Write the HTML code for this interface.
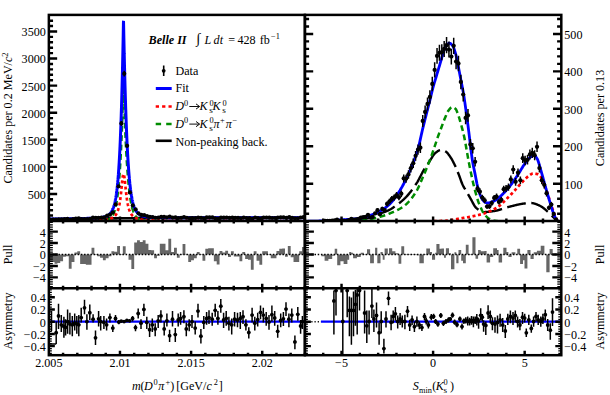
<!DOCTYPE html><html><head><meta charset="utf-8"><style>html,body{margin:0;padding:0;background:#fff;}svg{display:block}</style></head><body><svg width="610" height="395" viewBox="0 0 610 395" font-family="Liberation Serif, serif" fill="#000"><defs><clipPath id="cL"><rect x="48.85" y="14.90" width="256.05" height="206.10"/></clipPath><clipPath id="cR"><rect x="304.90" y="14.90" width="256.40" height="206.10"/></clipPath><clipPath id="cLA"><rect x="48.85" y="288.20" width="256.05" height="67.00"/></clipPath><clipPath id="cRA"><rect x="304.90" y="288.20" width="256.40" height="67.00"/></clipPath></defs><g clip-path="url(#cL)" fill="none" stroke-linejoin="bevel"><path d="M48.85 219.21L49.36 219.21L49.88 219.20L50.39 219.19L50.91 219.19L51.42 219.18L51.93 219.18L52.45 219.17L52.96 219.16L53.47 219.16L53.99 219.15L54.50 219.15L55.02 219.14L55.53 219.13L56.04 219.13L56.56 219.12L57.07 219.11L57.59 219.11L58.10 219.10L58.61 219.10L59.13 219.09L59.64 219.08L60.16 219.08L60.67 219.07L61.18 219.06L61.70 219.06L62.21 219.05L62.72 219.04L63.24 219.04L63.75 219.03L64.27 219.03L64.78 219.02L65.29 219.01L65.81 219.01L66.32 219.00L66.84 218.99L67.35 218.99L67.86 218.98L68.38 218.97L68.89 218.97L69.40 218.96L69.92 218.95L70.43 218.95L70.95 218.94L71.46 218.93L71.97 218.93L72.49 218.92L73.00 218.91L73.52 218.91L74.03 218.90L74.54 218.89L75.06 218.89L75.57 218.88L76.08 218.87L76.60 218.87L77.11 218.86L77.63 218.85L78.14 218.85L78.65 218.84L79.17 218.83L79.68 218.82L80.20 218.82L80.71 218.81L81.22 218.80L81.74 218.79L82.25 218.79L82.77 218.78L83.28 218.77L83.79 218.76L84.31 218.76L84.82 218.75L85.33 218.74L85.85 218.73L86.36 218.73L86.88 218.72L87.39 218.71L87.90 218.70L88.42 218.69L88.93 218.69L89.45 218.68L89.96 218.67L90.47 218.66L90.99 218.66L91.50 218.65L92.01 218.64L92.53 218.63L93.04 218.62L93.56 218.62L94.07 218.61L94.58 218.60L95.10 218.59L95.61 218.59L96.13 218.58L96.64 218.57L97.15 218.56L97.67 218.56L98.18 218.55L98.69 218.54L99.21 218.53L99.72 218.53L100.24 218.52L100.75 218.51L101.26 218.51L101.78 218.50L102.29 218.49L102.81 218.49L103.32 218.48L103.83 218.47L104.35 218.47L104.86 218.46L105.38 218.45L105.89 218.45L106.40 218.44L106.92 218.43L107.43 218.43L107.94 218.42L108.46 218.42L108.97 218.41L109.49 218.41L110.00 218.40L110.00 218.40L110.07 218.40L110.14 218.40L110.20 218.40L110.27 218.40L110.34 218.40L110.41 218.40L110.47 218.40L110.54 218.40L110.61 218.39L110.68 218.39L110.74 218.39L110.81 218.39L110.88 218.39L110.95 218.39L111.02 218.39L111.08 218.39L111.15 218.39L111.22 218.39L111.29 218.39L111.35 218.39L111.42 218.39L111.49 218.39L111.56 218.38L111.62 218.38L111.69 218.38L111.76 218.38L111.83 218.38L111.89 218.38L111.96 218.38L112.03 218.38L112.10 218.38L112.17 218.38L112.23 218.38L112.30 218.38L112.37 218.38L112.44 218.38L112.50 218.38L112.57 218.37L112.64 218.37L112.71 218.37L112.77 218.37L112.84 218.37L112.91 218.37L112.98 218.37L113.05 218.37L113.11 218.37L113.18 218.37L113.25 218.37L113.32 218.37L113.38 218.37L113.45 218.37L113.52 218.36L113.59 218.36L113.65 218.36L113.72 218.36L113.79 218.36L113.86 218.36L113.92 218.36L113.99 218.36L114.06 218.36L114.13 218.36L114.20 218.36L114.26 218.36L114.33 218.36L114.40 218.36L114.47 218.36L114.53 218.35L114.60 218.35L114.67 218.35L114.74 218.35L114.80 218.35L114.87 218.35L114.94 218.35L115.01 218.35L115.08 218.35L115.14 218.35L115.21 218.35L115.28 218.35L115.35 218.35L115.41 218.35L115.48 218.35L115.55 218.34L115.62 218.34L115.68 218.34L115.75 218.34L115.82 218.34L115.89 218.34L115.95 218.34L116.02 218.34L116.09 218.34L116.16 218.34L116.23 218.34L116.29 218.34L116.36 218.34L116.43 218.34L116.50 218.34L116.56 218.33L116.63 218.33L116.70 218.33L116.77 218.33L116.83 218.33L116.90 218.33L116.97 218.33L117.04 218.33L117.11 218.33L117.17 218.33L117.24 218.33L117.31 218.33L117.38 218.33L117.44 218.33L117.51 218.33L117.58 218.32L117.65 218.32L117.71 218.32L117.78 218.32L117.85 218.32L117.92 218.32L117.98 218.32L118.05 218.32L118.12 218.32L118.19 218.32L118.26 218.32L118.32 218.32L118.39 218.32L118.46 218.32L118.53 218.32L118.59 218.31L118.66 218.31L118.73 218.31L118.80 218.31L118.86 218.31L118.93 218.31L119.00 218.31L119.07 218.31L119.14 218.31L119.20 218.31L119.27 218.31L119.34 218.31L119.41 218.31L119.47 218.31L119.54 218.31L119.61 218.30L119.68 218.30L119.74 218.30L119.81 218.30L119.88 218.30L119.95 218.30L120.02 218.30L120.08 218.30L120.15 218.30L120.22 218.30L120.29 218.30L120.35 218.30L120.42 218.30L120.49 218.30L120.56 218.30L120.62 218.30L120.69 218.29L120.76 218.29L120.83 218.29L120.89 218.29L120.96 218.29L121.03 218.29L121.10 218.29L121.17 218.29L121.23 218.29L121.30 218.29L121.37 218.29L121.44 218.29L121.50 218.29L121.57 218.29L121.64 218.29L121.71 218.29L121.77 218.28L121.84 218.28L121.91 218.28L121.98 218.28L122.05 218.28L122.11 218.28L122.18 218.28L122.25 218.28L122.32 218.28L122.38 218.28L122.45 218.28L122.52 218.28L122.59 218.28L122.65 218.28L122.72 218.28L122.79 218.27L122.86 218.27L122.92 218.27L122.99 218.27L123.06 218.27L123.13 218.27L123.20 218.27L123.26 218.27L123.33 218.27L123.40 218.27L123.47 218.27L123.53 218.27L123.60 218.27L123.67 218.27L123.74 218.27L123.80 218.27L123.87 218.26L123.94 218.26L124.01 218.26L124.08 218.26L124.14 218.26L124.21 218.26L124.28 218.26L124.35 218.26L124.41 218.26L124.48 218.26L124.55 218.26L124.62 218.26L124.68 218.26L124.75 218.26L124.82 218.26L124.89 218.26L124.95 218.26L125.02 218.25L125.09 218.25L125.16 218.25L125.23 218.25L125.29 218.25L125.36 218.25L125.43 218.25L125.50 218.25L125.56 218.25L125.63 218.25L125.70 218.25L125.77 218.25L125.83 218.25L125.90 218.25L125.97 218.25L126.04 218.25L126.11 218.24L126.17 218.24L126.24 218.24L126.31 218.24L126.38 218.24L126.44 218.24L126.51 218.24L126.58 218.24L126.65 218.24L126.71 218.24L126.78 218.24L126.85 218.24L126.92 218.24L126.98 218.24L127.05 218.24L127.12 218.24L127.19 218.24L127.26 218.23L127.32 218.23L127.39 218.23L127.46 218.23L127.53 218.23L127.59 218.23L127.66 218.23L127.73 218.23L127.80 218.23L127.86 218.23L127.93 218.23L128.00 218.23L128.07 218.23L128.14 218.23L128.20 218.23L128.27 218.23L128.34 218.23L128.41 218.22L128.47 218.22L128.54 218.22L128.61 218.22L128.68 218.22L128.74 218.22L128.81 218.22L128.88 218.22L128.95 218.22L129.02 218.22L129.08 218.22L129.15 218.22L129.22 218.22L129.29 218.22L129.35 218.22L129.42 218.22L129.49 218.22L129.56 218.21L129.62 218.21L129.69 218.21L129.76 218.21L129.83 218.21L129.89 218.21L129.96 218.21L130.03 218.21L130.10 218.21L130.17 218.21L130.23 218.21L130.30 218.21L130.37 218.21L130.44 218.21L130.50 218.21L130.57 218.21L130.64 218.21L130.71 218.21L130.77 218.20L130.84 218.20L130.91 218.20L130.98 218.20L131.05 218.20L131.11 218.20L131.18 218.20L131.25 218.20L131.32 218.20L131.38 218.20L131.45 218.20L131.52 218.20L131.59 218.20L131.65 218.20L131.72 218.20L131.79 218.20L131.86 218.20L131.92 218.20L131.99 218.19L132.06 218.19L132.13 218.19L132.20 218.19L132.26 218.19L132.33 218.19L132.40 218.19L132.47 218.19L132.53 218.19L132.60 218.19L132.67 218.19L132.74 218.19L132.80 218.19L132.87 218.19L132.94 218.19L133.01 218.19L133.08 218.19L133.14 218.19L133.21 218.19L133.28 218.18L133.35 218.18L133.41 218.18L133.48 218.18L133.55 218.18L133.62 218.18L133.68 218.18L133.75 218.18L133.82 218.18L133.89 218.18L133.95 218.18L134.02 218.18L134.09 218.18L134.16 218.18L134.23 218.18L134.29 218.18L134.36 218.18L134.43 218.18L134.50 218.17L134.56 218.17L134.63 218.17L134.70 218.17L134.77 218.17L134.83 218.17L134.90 218.17L134.97 218.17L135.04 218.17L135.11 218.17L135.17 218.17L135.24 218.17L135.31 218.17L135.38 218.17L135.44 218.17L135.51 218.17L135.58 218.17L135.65 218.17L135.71 218.17L135.78 218.17L135.85 218.16L135.92 218.16L135.98 218.16L136.05 218.16L136.12 218.16L136.19 218.16L136.26 218.16L136.32 218.16L136.39 218.16L136.46 218.16L136.53 218.16L136.59 218.16L136.66 218.16L136.73 218.16L136.80 218.16L136.86 218.16L136.93 218.16L137.00 218.16L137.00 218.16L137.84 218.15L138.69 218.14L139.53 218.14L140.37 218.13L141.22 218.13L142.06 218.12L142.91 218.12L143.75 218.11L144.59 218.11L145.44 218.10L146.28 218.10L147.12 218.09L147.97 218.09L148.81 218.08L149.66 218.08L150.50 218.07L151.34 218.07L152.19 218.07L153.03 218.06L153.87 218.06L154.72 218.05L155.56 218.05L156.41 218.05L157.25 218.04L158.09 218.04L158.94 218.03L159.78 218.03L160.62 218.03L161.47 218.02L162.31 218.02L163.16 218.02L164.00 218.01L164.84 218.01L165.69 218.01L166.53 218.00L167.37 218.00L168.22 217.99L169.06 217.99L169.91 217.99L170.75 217.98L171.59 217.98L172.44 217.98L173.28 217.98L174.12 217.97L174.97 217.97L175.81 217.97L176.65 217.96L177.50 217.96L178.34 217.96L179.19 217.95L180.03 217.95L180.87 217.95L181.72 217.95L182.56 217.94L183.40 217.94L184.25 217.94L185.09 217.93L185.94 217.93L186.78 217.93L187.62 217.93L188.47 217.92L189.31 217.92L190.15 217.92L191.00 217.92L191.84 217.91L192.69 217.91L193.53 217.91L194.37 217.91L195.22 217.90L196.06 217.90L196.90 217.90L197.75 217.90L198.59 217.90L199.44 217.89L200.28 217.89L201.12 217.89L201.97 217.89L202.81 217.88L203.65 217.88L204.50 217.88L205.34 217.88L206.18 217.88L207.03 217.88L207.87 217.87L208.72 217.87L209.56 217.87L210.40 217.87L211.25 217.87L212.09 217.86L212.93 217.86L213.78 217.86L214.62 217.86L215.47 217.86L216.31 217.86L217.15 217.86L218.00 217.85L218.84 217.85L219.68 217.85L220.53 217.85L221.37 217.85L222.22 217.85L223.06 217.84L223.90 217.84L224.75 217.84L225.59 217.84L226.43 217.84L227.28 217.84L228.12 217.84L228.97 217.83L229.81 217.83L230.65 217.83L231.50 217.83L232.34 217.83L233.18 217.83L234.03 217.83L234.87 217.82L235.72 217.82L236.56 217.82L237.40 217.82L238.25 217.82L239.09 217.82L239.93 217.82L240.78 217.81L241.62 217.81L242.46 217.81L243.31 217.81L244.15 217.81L245.00 217.81L245.84 217.81L246.68 217.80L247.53 217.80L248.37 217.80L249.21 217.80L250.06 217.80L250.90 217.80L251.75 217.80L252.59 217.80L253.43 217.79L254.28 217.79L255.12 217.79L255.96 217.79L256.81 217.79L257.65 217.79L258.50 217.79L259.34 217.79L260.18 217.78L261.03 217.78L261.87 217.78L262.71 217.78L263.56 217.78L264.40 217.78L265.25 217.78L266.09 217.78L266.93 217.78L267.78 217.77L268.62 217.77L269.46 217.77L270.31 217.77L271.15 217.77L271.99 217.77L272.84 217.77L273.68 217.77L274.53 217.77L275.37 217.77L276.21 217.77L277.06 217.76L277.90 217.76L278.74 217.76L279.59 217.76L280.43 217.76L281.28 217.76L282.12 217.76L282.96 217.76L283.81 217.76L284.65 217.76L285.49 217.76L286.34 217.76L287.18 217.76L288.03 217.76L288.87 217.76L289.71 217.76L290.56 217.75L291.40 217.75L292.24 217.75L293.09 217.75L293.93 217.75L294.78 217.75L295.62 217.75L296.46 217.75L297.31 217.75L298.15 217.75L298.99 217.75L299.84 217.75L300.68 217.75L301.53 217.75L302.37 217.75L303.21 217.75L304.06 217.75L304.90 217.75" stroke="#000" stroke-width="2.6"/><path d="M48.85 220.99L49.36 220.99L49.88 220.99L50.39 220.99L50.91 220.99L51.42 220.99L51.93 220.99L52.45 220.99L52.96 220.99L53.47 220.99L53.99 220.99L54.50 220.99L55.02 220.99L55.53 220.99L56.04 220.99L56.56 220.99L57.07 220.99L57.59 220.99L58.10 220.99L58.61 220.99L59.13 220.99L59.64 220.99L60.16 220.99L60.67 220.99L61.18 220.98L61.70 220.98L62.21 220.98L62.72 220.98L63.24 220.98L63.75 220.98L64.27 220.98L64.78 220.98L65.29 220.98L65.81 220.98L66.32 220.98L66.84 220.98L67.35 220.98L67.86 220.98L68.38 220.98L68.89 220.98L69.40 220.98L69.92 220.98L70.43 220.98L70.95 220.98L71.46 220.98L71.97 220.98L72.49 220.98L73.00 220.98L73.52 220.98L74.03 220.98L74.54 220.98L75.06 220.98L75.57 220.97L76.08 220.97L76.60 220.97L77.11 220.97L77.63 220.97L78.14 220.97L78.65 220.97L79.17 220.97L79.68 220.97L80.20 220.97L80.71 220.97L81.22 220.97L81.74 220.97L82.25 220.97L82.77 220.97L83.28 220.96L83.79 220.96L84.31 220.96L84.82 220.96L85.33 220.96L85.85 220.96L86.36 220.96L86.88 220.96L87.39 220.96L87.90 220.95L88.42 220.95L88.93 220.95L89.45 220.95L89.96 220.95L90.47 220.95L90.99 220.94L91.50 220.94L92.01 220.94L92.53 220.94L93.04 220.93L93.56 220.93L94.07 220.93L94.58 220.92L95.10 220.92L95.61 220.91L96.13 220.90L96.64 220.90L97.15 220.89L97.67 220.88L98.18 220.87L98.69 220.86L99.21 220.85L99.72 220.83L100.24 220.81L100.75 220.79L101.26 220.77L101.78 220.74L102.29 220.71L102.81 220.67L103.32 220.63L103.83 220.57L104.35 220.51L104.86 220.44L105.38 220.36L105.89 220.27L106.40 220.15L106.92 220.02L107.43 219.87L107.94 219.68L108.46 219.47L108.97 219.22L109.49 218.92L110.00 218.58L110.00 218.58L110.07 218.53L110.14 218.48L110.20 218.42L110.27 218.37L110.34 218.32L110.41 218.26L110.47 218.20L110.54 218.14L110.61 218.09L110.68 218.02L110.74 217.96L110.81 217.90L110.88 217.84L110.95 217.77L111.02 217.70L111.08 217.63L111.15 217.56L111.22 217.49L111.29 217.42L111.35 217.34L111.42 217.27L111.49 217.19L111.56 217.11L111.62 217.03L111.69 216.94L111.76 216.86L111.83 216.77L111.89 216.68L111.96 216.59L112.03 216.50L112.10 216.40L112.17 216.31L112.23 216.21L112.30 216.11L112.37 216.00L112.44 215.90L112.50 215.79L112.57 215.68L112.64 215.57L112.71 215.45L112.77 215.33L112.84 215.21L112.91 215.09L112.98 214.97L113.05 214.84L113.11 214.71L113.18 214.58L113.25 214.44L113.32 214.30L113.38 214.16L113.45 214.01L113.52 213.87L113.59 213.71L113.65 213.56L113.72 213.40L113.79 213.24L113.86 213.08L113.92 212.91L113.99 212.74L114.06 212.56L114.13 212.38L114.20 212.20L114.26 212.01L114.33 211.82L114.40 211.62L114.47 211.42L114.53 211.22L114.60 211.01L114.67 210.80L114.74 210.58L114.80 210.36L114.87 210.14L114.94 209.91L115.01 209.67L115.08 209.43L115.14 209.18L115.21 208.93L115.28 208.68L115.35 208.42L115.41 208.15L115.48 207.88L115.55 207.60L115.62 207.31L115.68 207.02L115.75 206.73L115.82 206.42L115.89 206.11L115.95 205.80L116.02 205.48L116.09 205.15L116.16 204.81L116.23 204.47L116.29 204.12L116.36 203.76L116.43 203.40L116.50 203.03L116.56 202.65L116.63 202.26L116.70 201.87L116.77 201.46L116.83 201.05L116.90 200.63L116.97 200.20L117.04 199.77L117.11 199.32L117.17 198.86L117.24 198.40L117.31 197.93L117.38 197.44L117.44 196.95L117.51 196.45L117.58 195.94L117.65 195.41L117.71 194.88L117.78 194.33L117.85 193.78L117.92 193.21L117.98 192.64L118.05 192.05L118.12 191.45L118.19 190.84L118.26 190.21L118.32 189.58L118.39 188.93L118.46 188.27L118.53 187.60L118.59 186.91L118.66 186.22L118.73 185.50L118.80 184.78L118.86 184.04L118.93 183.29L119.00 182.52L119.07 181.74L119.14 180.95L119.20 180.14L119.27 179.31L119.34 178.47L119.41 177.62L119.47 176.75L119.54 175.86L119.61 174.96L119.68 174.04L119.74 173.11L119.81 172.15L119.88 171.19L119.95 170.20L120.02 169.20L120.08 168.17L120.15 167.13L120.22 166.08L120.29 165.00L120.35 163.90L120.42 162.78L120.49 161.65L120.56 160.49L120.62 159.31L120.69 158.11L120.76 156.88L120.83 155.63L120.89 154.36L120.96 153.07L121.03 151.74L121.10 150.39L121.17 149.02L121.23 147.61L121.30 146.18L121.37 144.71L121.44 143.21L121.50 141.68L121.57 140.11L121.64 138.50L121.71 136.85L121.77 135.16L121.84 133.43L121.91 131.65L121.98 129.82L122.05 127.94L122.11 126.01L122.18 124.02L122.25 121.96L122.32 119.85L122.38 117.67L122.45 115.42L122.52 113.09L122.59 110.69L122.65 108.21L122.72 105.65L122.79 103.00L122.86 100.25L122.92 97.41L122.99 94.48L123.06 91.44L123.13 88.30L123.20 85.06L123.26 81.70L123.33 78.23L123.40 74.64L123.47 70.94L123.53 70.82L123.60 74.31L123.67 77.69L123.74 80.97L123.80 84.15L123.87 87.22L123.94 90.21L124.01 93.10L124.08 95.89L124.14 98.60L124.21 101.23L124.28 103.77L124.35 106.23L124.41 108.62L124.48 110.93L124.55 113.17L124.62 115.34L124.68 117.45L124.75 119.49L124.82 121.48L124.89 123.41L124.95 125.28L125.02 127.11L125.09 128.88L125.16 130.61L125.23 132.30L125.29 133.94L125.36 135.54L125.43 137.10L125.50 138.63L125.56 140.12L125.63 141.58L125.70 143.01L125.77 144.41L125.83 145.78L125.90 147.12L125.97 148.44L126.04 149.73L126.11 150.99L126.17 152.23L126.24 153.45L126.31 154.65L126.38 155.82L126.44 156.98L126.51 158.11L126.58 159.23L126.65 160.32L126.71 161.40L126.78 162.46L126.85 163.50L126.92 164.53L126.98 165.54L127.05 166.53L127.12 167.50L127.19 168.46L127.26 169.41L127.32 170.33L127.39 171.25L127.46 172.15L127.53 173.03L127.59 173.90L127.66 174.75L127.73 175.59L127.80 176.42L127.86 177.24L127.93 178.04L128.00 178.82L128.07 179.60L128.14 180.36L128.20 181.11L128.27 181.84L128.34 182.56L128.41 183.28L128.47 183.97L128.54 184.66L128.61 185.34L128.68 186.00L128.74 186.65L128.81 187.29L128.88 187.92L128.95 188.54L129.02 189.15L129.08 189.75L129.15 190.33L129.22 190.91L129.29 191.48L129.35 192.03L129.42 192.58L129.49 193.12L129.56 193.64L129.62 194.16L129.69 194.67L129.76 195.17L129.83 195.66L129.89 196.14L129.96 196.61L130.03 197.08L130.10 197.53L130.17 197.98L130.23 198.42L130.30 198.85L130.37 199.27L130.44 199.68L130.50 200.09L130.57 200.49L130.64 200.88L130.71 201.27L130.77 201.65L130.84 202.02L130.91 202.38L130.98 202.74L131.05 203.09L131.11 203.43L131.18 203.77L131.25 204.10L131.32 204.42L131.38 204.74L131.45 205.05L131.52 205.36L131.59 205.66L131.65 205.95L131.72 206.24L131.79 206.53L131.86 206.81L131.92 207.08L131.99 207.35L132.06 207.61L132.13 207.87L132.20 208.12L132.26 208.37L132.33 208.61L132.40 208.85L132.47 209.08L132.53 209.31L132.60 209.53L132.67 209.75L132.74 209.97L132.80 210.18L132.87 210.39L132.94 210.59L133.01 210.79L133.08 210.99L133.14 211.18L133.21 211.37L133.28 211.55L133.35 211.74L133.41 211.91L133.48 212.09L133.55 212.26L133.62 212.43L133.68 212.59L133.75 212.75L133.82 212.91L133.89 213.06L133.95 213.22L134.02 213.36L134.09 213.51L134.16 213.65L134.23 213.79L134.29 213.93L134.36 214.07L134.43 214.20L134.50 214.33L134.56 214.45L134.63 214.58L134.70 214.70L134.77 214.82L134.83 214.94L134.90 215.05L134.97 215.17L135.04 215.28L135.11 215.38L135.17 215.49L135.24 215.60L135.31 215.70L135.38 215.80L135.44 215.90L135.51 215.99L135.58 216.09L135.65 216.18L135.71 216.27L135.78 216.36L135.85 216.45L135.92 216.53L135.98 216.62L136.05 216.70L136.12 216.78L136.19 216.86L136.26 216.94L136.32 217.01L136.39 217.09L136.46 217.16L136.53 217.23L136.59 217.30L136.66 217.37L136.73 217.44L136.80 217.50L136.86 217.57L136.93 217.63L137.00 217.69L137.00 217.69L137.84 218.38L138.69 218.91L139.53 219.33L140.37 219.65L141.22 219.91L142.06 220.11L142.91 220.27L143.75 220.40L144.59 220.49L145.44 220.57L146.28 220.64L147.12 220.69L147.97 220.73L148.81 220.76L149.66 220.79L150.50 220.81L151.34 220.83L152.19 220.84L153.03 220.86L153.87 220.87L154.72 220.88L155.56 220.89L156.41 220.89L157.25 220.90L158.09 220.91L158.94 220.91L159.78 220.92L160.62 220.92L161.47 220.92L162.31 220.93L163.16 220.93L164.00 220.93L164.84 220.94L165.69 220.94L166.53 220.94L167.37 220.94L168.22 220.94L169.06 220.95L169.91 220.95L170.75 220.95L171.59 220.95L172.44 220.95L173.28 220.96L174.12 220.96L174.97 220.96L175.81 220.96L176.65 220.96L177.50 220.96L178.34 220.96L179.19 220.96L180.03 220.96L180.87 220.97L181.72 220.97L182.56 220.97L183.40 220.97L184.25 220.97L185.09 220.97L185.94 220.97L186.78 220.97L187.62 220.97L188.47 220.97L189.31 220.97L190.15 220.97L191.00 220.98L191.84 220.98L192.69 220.98L193.53 220.98L194.37 220.98L195.22 220.98L196.06 220.98L196.90 220.98L197.75 220.98L198.59 220.98L199.44 220.98L200.28 220.98L201.12 220.98L201.97 220.98L202.81 220.98L203.65 220.98L204.50 220.98L205.34 220.98L206.18 220.98L207.03 220.98L207.87 220.98L208.72 220.98L209.56 220.98L210.40 220.98L211.25 220.99L212.09 220.99L212.93 220.99L213.78 220.99L214.62 220.99L215.47 220.99L216.31 220.99L217.15 220.99L218.00 220.99L218.84 220.99L219.68 220.99L220.53 220.99L221.37 220.99L222.22 220.99L223.06 220.99L223.90 220.99L224.75 220.99L225.59 220.99L226.43 220.99L227.28 220.99L228.12 220.99L228.97 220.99L229.81 220.99L230.65 220.99L231.50 220.99L232.34 220.99L233.18 220.99L234.03 220.99L234.87 220.99L235.72 220.99L236.56 220.99L237.40 220.99L238.25 220.99L239.09 220.99L239.93 220.99L240.78 220.99L241.62 220.99L242.46 220.99L243.31 220.99L244.15 220.99L245.00 220.99L245.84 220.99L246.68 220.99L247.53 220.99L248.37 220.99L249.21 220.99L250.06 220.99L250.90 220.99L251.75 220.99L252.59 220.99L253.43 220.99L254.28 220.99L255.12 220.99L255.96 220.99L256.81 220.99L257.65 220.99L258.50 220.99L259.34 220.99L260.18 220.99L261.03 220.99L261.87 220.99L262.71 220.99L263.56 220.99L264.40 220.99L265.25 220.99L266.09 220.99L266.93 220.99L267.78 220.99L268.62 220.99L269.46 220.99L270.31 220.99L271.15 220.99L271.99 220.99L272.84 220.99L273.68 220.99L274.53 220.99L275.37 221.00L276.21 221.00L277.06 221.00L277.90 221.00L278.74 221.00L279.59 221.00L280.43 221.00L281.28 221.00L282.12 221.00L282.96 221.00L283.81 221.00L284.65 221.00L285.49 221.00L286.34 221.00L287.18 221.00L288.03 221.00L288.87 221.00L289.71 221.00L290.56 221.00L291.40 221.00L292.24 221.00L293.09 221.00L293.93 221.00L294.78 221.00L295.62 221.00L296.46 221.00L297.31 221.00L298.15 221.00L298.99 221.00L299.84 221.00L300.68 221.00L301.53 221.00L302.37 221.00L303.21 221.00L304.06 221.00L304.90 221.00" stroke="#008c00" stroke-width="2.3" stroke-dasharray="5.8 3.6"/><path d="M48.85 220.92L49.36 220.92L49.88 220.92L50.39 220.92L50.91 220.92L51.42 220.92L51.93 220.92L52.45 220.92L52.96 220.92L53.47 220.91L53.99 220.91L54.50 220.91L55.02 220.91L55.53 220.91L56.04 220.91L56.56 220.91L57.07 220.90L57.59 220.90L58.10 220.90L58.61 220.90L59.13 220.90L59.64 220.90L60.16 220.89L60.67 220.89L61.18 220.89L61.70 220.89L62.21 220.89L62.72 220.89L63.24 220.88L63.75 220.88L64.27 220.88L64.78 220.88L65.29 220.88L65.81 220.87L66.32 220.87L66.84 220.87L67.35 220.87L67.86 220.86L68.38 220.86L68.89 220.86L69.40 220.86L69.92 220.85L70.43 220.85L70.95 220.85L71.46 220.84L71.97 220.84L72.49 220.84L73.00 220.83L73.52 220.83L74.03 220.83L74.54 220.82L75.06 220.82L75.57 220.82L76.08 220.81L76.60 220.81L77.11 220.80L77.63 220.80L78.14 220.80L78.65 220.79L79.17 220.79L79.68 220.78L80.20 220.78L80.71 220.77L81.22 220.76L81.74 220.76L82.25 220.75L82.77 220.75L83.28 220.74L83.79 220.73L84.31 220.73L84.82 220.72L85.33 220.71L85.85 220.70L86.36 220.70L86.88 220.69L87.39 220.68L87.90 220.67L88.42 220.66L88.93 220.65L89.45 220.64L89.96 220.63L90.47 220.62L90.99 220.60L91.50 220.59L92.01 220.58L92.53 220.56L93.04 220.55L93.56 220.53L94.07 220.52L94.58 220.50L95.10 220.48L95.61 220.46L96.13 220.44L96.64 220.42L97.15 220.40L97.67 220.37L98.18 220.35L98.69 220.32L99.21 220.29L99.72 220.26L100.24 220.23L100.75 220.20L101.26 220.16L101.78 220.12L102.29 220.08L102.81 220.03L103.32 219.98L103.83 219.93L104.35 219.87L104.86 219.81L105.38 219.75L105.89 219.67L106.40 219.59L106.92 219.51L107.43 219.42L107.94 219.31L108.46 219.20L108.97 219.08L109.49 218.94L110.00 218.79L110.00 218.79L110.07 218.76L110.14 218.74L110.20 218.72L110.27 218.70L110.34 218.68L110.41 218.65L110.47 218.63L110.54 218.61L110.61 218.58L110.68 218.56L110.74 218.53L110.81 218.51L110.88 218.48L110.95 218.46L111.02 218.43L111.08 218.41L111.15 218.38L111.22 218.35L111.29 218.32L111.35 218.30L111.42 218.27L111.49 218.24L111.56 218.21L111.62 218.18L111.69 218.15L111.76 218.12L111.83 218.09L111.89 218.05L111.96 218.02L112.03 217.99L112.10 217.95L112.17 217.92L112.23 217.89L112.30 217.85L112.37 217.81L112.44 217.78L112.50 217.74L112.57 217.70L112.64 217.67L112.71 217.63L112.77 217.59L112.84 217.55L112.91 217.51L112.98 217.46L113.05 217.42L113.11 217.38L113.18 217.33L113.25 217.29L113.32 217.24L113.38 217.20L113.45 217.15L113.52 217.10L113.59 217.05L113.65 217.00L113.72 216.95L113.79 216.90L113.86 216.85L113.92 216.79L113.99 216.74L114.06 216.68L114.13 216.63L114.20 216.57L114.26 216.51L114.33 216.45L114.40 216.39L114.47 216.33L114.53 216.26L114.60 216.20L114.67 216.13L114.74 216.06L114.80 216.00L114.87 215.93L114.94 215.85L115.01 215.78L115.08 215.71L115.14 215.63L115.21 215.55L115.28 215.47L115.35 215.39L115.41 215.31L115.48 215.22L115.55 215.14L115.62 215.05L115.68 214.96L115.75 214.87L115.82 214.77L115.89 214.68L115.95 214.58L116.02 214.48L116.09 214.37L116.16 214.27L116.23 214.16L116.29 214.05L116.36 213.94L116.43 213.82L116.50 213.71L116.56 213.59L116.63 213.46L116.70 213.34L116.77 213.21L116.83 213.08L116.90 212.94L116.97 212.80L117.04 212.66L117.11 212.51L117.17 212.36L117.24 212.21L117.31 212.06L117.38 211.90L117.44 211.73L117.51 211.56L117.58 211.39L117.65 211.21L117.71 211.03L117.78 210.85L117.85 210.65L117.92 210.46L117.98 210.26L118.05 210.05L118.12 209.84L118.19 209.62L118.26 209.40L118.32 209.17L118.39 208.94L118.46 208.70L118.53 208.45L118.59 208.20L118.66 207.94L118.73 207.67L118.80 207.39L118.86 207.11L118.93 206.82L119.00 206.52L119.07 206.22L119.14 205.91L119.20 205.58L119.27 205.25L119.34 204.91L119.41 204.56L119.47 204.21L119.54 203.84L119.61 203.46L119.68 203.07L119.74 202.68L119.81 202.27L119.88 201.85L119.95 201.42L120.02 200.98L120.08 200.52L120.15 200.06L120.22 199.59L120.29 199.10L120.35 198.60L120.42 198.09L120.49 197.57L120.56 197.03L120.62 196.49L120.69 195.93L120.76 195.36L120.83 194.77L120.89 194.18L120.96 193.58L121.03 192.96L121.10 192.34L121.17 191.70L121.23 191.05L121.30 190.40L121.37 189.74L121.44 189.07L121.50 188.39L121.57 187.71L121.64 187.03L121.71 186.34L121.77 185.65L121.84 184.96L121.91 184.28L121.98 183.59L122.05 182.91L122.11 182.24L122.18 181.58L122.25 180.93L122.32 180.30L122.38 179.68L122.45 179.08L122.52 178.50L122.59 177.95L122.65 177.42L122.72 176.92L122.79 176.45L122.86 176.02L122.92 175.62L122.99 175.27L123.06 174.95L123.13 174.67L123.20 174.44L123.26 174.25L123.33 174.11L123.40 174.01L123.47 173.96L123.53 173.96L123.60 174.00L123.67 174.09L123.74 174.21L123.80 174.38L123.87 174.58L123.94 174.83L124.01 175.11L124.08 175.43L124.14 175.78L124.21 176.17L124.28 176.58L124.35 177.03L124.41 177.50L124.48 178.00L124.55 178.52L124.62 179.06L124.68 179.62L124.75 180.20L124.82 180.79L124.89 181.40L124.95 182.01L125.02 182.64L125.09 183.27L125.16 183.91L125.23 184.55L125.29 185.20L125.36 185.84L125.43 186.49L125.50 187.13L125.56 187.78L125.63 188.41L125.70 189.05L125.77 189.68L125.83 190.30L125.90 190.91L125.97 191.52L126.04 192.12L126.11 192.71L126.17 193.29L126.24 193.86L126.31 194.42L126.38 194.98L126.44 195.52L126.51 196.05L126.58 196.57L126.65 197.08L126.71 197.58L126.78 198.07L126.85 198.55L126.92 199.02L126.98 199.48L127.05 199.93L127.12 200.37L127.19 200.79L127.26 201.21L127.32 201.62L127.39 202.02L127.46 202.41L127.53 202.79L127.59 203.16L127.66 203.52L127.73 203.87L127.80 204.22L127.86 204.55L127.93 204.88L128.00 205.20L128.07 205.51L128.14 205.82L128.20 206.11L128.27 206.40L128.34 206.68L128.41 206.96L128.47 207.23L128.54 207.49L128.61 207.74L128.68 207.99L128.74 208.24L128.81 208.47L128.88 208.71L128.95 208.93L129.02 209.15L129.08 209.37L129.15 209.58L129.22 209.78L129.29 209.98L129.35 210.18L129.42 210.37L129.49 210.55L129.56 210.73L129.62 210.91L129.69 211.08L129.76 211.25L129.83 211.42L129.89 211.58L129.96 211.74L130.03 211.89L130.10 212.04L130.17 212.19L130.23 212.33L130.30 212.47L130.37 212.61L130.44 212.74L130.50 212.88L130.57 213.00L130.64 213.13L130.71 213.25L130.77 213.37L130.84 213.49L130.91 213.61L130.98 213.72L131.05 213.83L131.11 213.94L131.18 214.04L131.25 214.14L131.32 214.25L131.38 214.35L131.45 214.44L131.52 214.54L131.59 214.63L131.65 214.72L131.72 214.81L131.79 214.90L131.86 214.98L131.92 215.07L131.99 215.15L132.06 215.23L132.13 215.31L132.20 215.39L132.26 215.46L132.33 215.54L132.40 215.61L132.47 215.68L132.53 215.76L132.60 215.82L132.67 215.89L132.74 215.96L132.80 216.02L132.87 216.09L132.94 216.15L133.01 216.21L133.08 216.27L133.14 216.33L133.21 216.39L133.28 216.45L133.35 216.51L133.41 216.56L133.48 216.62L133.55 216.67L133.62 216.72L133.68 216.77L133.75 216.82L133.82 216.87L133.89 216.92L133.95 216.97L134.02 217.02L134.09 217.06L134.16 217.11L134.23 217.15L134.29 217.20L134.36 217.24L134.43 217.29L134.50 217.33L134.56 217.37L134.63 217.41L134.70 217.45L134.77 217.49L134.83 217.53L134.90 217.57L134.97 217.60L135.04 217.64L135.11 217.68L135.17 217.71L135.24 217.75L135.31 217.78L135.38 217.82L135.44 217.85L135.51 217.88L135.58 217.91L135.65 217.95L135.71 217.98L135.78 218.01L135.85 218.04L135.92 218.07L135.98 218.10L136.05 218.13L136.12 218.16L136.19 218.19L136.26 218.21L136.32 218.24L136.39 218.27L136.46 218.30L136.53 218.32L136.59 218.35L136.66 218.37L136.73 218.40L136.80 218.42L136.86 218.45L136.93 218.47L137.00 218.50L137.00 218.50L137.84 218.77L138.69 219.00L139.53 219.20L140.37 219.37L141.22 219.51L142.06 219.64L142.91 219.75L143.75 219.85L144.59 219.94L145.44 220.02L146.28 220.09L147.12 220.15L147.97 220.21L148.81 220.26L149.66 220.31L150.50 220.35L151.34 220.39L152.19 220.42L153.03 220.45L153.87 220.48L154.72 220.51L155.56 220.54L156.41 220.56L157.25 220.58L158.09 220.60L158.94 220.62L159.78 220.64L160.62 220.65L161.47 220.67L162.31 220.68L163.16 220.70L164.00 220.71L164.84 220.72L165.69 220.73L166.53 220.74L167.37 220.75L168.22 220.76L169.06 220.77L169.91 220.78L170.75 220.79L171.59 220.79L172.44 220.80L173.28 220.81L174.12 220.81L174.97 220.82L175.81 220.82L176.65 220.83L177.50 220.84L178.34 220.84L179.19 220.85L180.03 220.85L180.87 220.85L181.72 220.86L182.56 220.86L183.40 220.87L184.25 220.87L185.09 220.87L185.94 220.88L186.78 220.88L187.62 220.88L188.47 220.89L189.31 220.89L190.15 220.89L191.00 220.89L191.84 220.90L192.69 220.90L193.53 220.90L194.37 220.90L195.22 220.91L196.06 220.91L196.90 220.91L197.75 220.91L198.59 220.91L199.44 220.92L200.28 220.92L201.12 220.92L201.97 220.92L202.81 220.92L203.65 220.93L204.50 220.93L205.34 220.93L206.18 220.93L207.03 220.93L207.87 220.93L208.72 220.93L209.56 220.94L210.40 220.94L211.25 220.94L212.09 220.94L212.93 220.94L213.78 220.94L214.62 220.94L215.47 220.94L216.31 220.94L217.15 220.95L218.00 220.95L218.84 220.95L219.68 220.95L220.53 220.95L221.37 220.95L222.22 220.95L223.06 220.95L223.90 220.95L224.75 220.95L225.59 220.95L226.43 220.95L227.28 220.96L228.12 220.96L228.97 220.96L229.81 220.96L230.65 220.96L231.50 220.96L232.34 220.96L233.18 220.96L234.03 220.96L234.87 220.96L235.72 220.96L236.56 220.96L237.40 220.96L238.25 220.96L239.09 220.96L239.93 220.96L240.78 220.97L241.62 220.97L242.46 220.97L243.31 220.97L244.15 220.97L245.00 220.97L245.84 220.97L246.68 220.97L247.53 220.97L248.37 220.97L249.21 220.97L250.06 220.97L250.90 220.97L251.75 220.97L252.59 220.97L253.43 220.97L254.28 220.97L255.12 220.97L255.96 220.97L256.81 220.97L257.65 220.97L258.50 220.97L259.34 220.97L260.18 220.97L261.03 220.97L261.87 220.97L262.71 220.98L263.56 220.98L264.40 220.98L265.25 220.98L266.09 220.98L266.93 220.98L267.78 220.98L268.62 220.98L269.46 220.98L270.31 220.98L271.15 220.98L271.99 220.98L272.84 220.98L273.68 220.98L274.53 220.98L275.37 220.98L276.21 220.98L277.06 220.98L277.90 220.98L278.74 220.98L279.59 220.98L280.43 220.98L281.28 220.98L282.12 220.98L282.96 220.98L283.81 220.98L284.65 220.98L285.49 220.98L286.34 220.98L287.18 220.98L288.03 220.98L288.87 220.98L289.71 220.98L290.56 220.98L291.40 220.98L292.24 220.98L293.09 220.98L293.93 220.98L294.78 220.98L295.62 220.98L296.46 220.98L297.31 220.98L298.15 220.98L298.99 220.98L299.84 220.98L300.68 220.98L301.53 220.98L302.37 220.98L303.21 220.99L304.06 220.99L304.90 220.99" stroke="#f00" stroke-width="2.7" stroke-dasharray="3 2.6"/><path d="M48.85 219.13L49.36 219.12L49.88 219.11L50.39 219.10L50.91 219.10L51.42 219.09L51.93 219.08L52.45 219.07L52.96 219.07L53.47 219.06L53.99 219.05L54.50 219.04L55.02 219.04L55.53 219.03L56.04 219.02L56.56 219.01L57.07 219.01L57.59 219.00L58.10 218.99L58.61 218.98L59.13 218.97L59.64 218.97L60.16 218.96L60.67 218.95L61.18 218.94L61.70 218.93L62.21 218.92L62.72 218.91L63.24 218.91L63.75 218.90L64.27 218.89L64.78 218.88L65.29 218.87L65.81 218.86L66.32 218.85L66.84 218.84L67.35 218.83L67.86 218.83L68.38 218.82L68.89 218.81L69.40 218.80L69.92 218.79L70.43 218.78L70.95 218.77L71.46 218.76L71.97 218.75L72.49 218.74L73.00 218.73L73.52 218.72L74.03 218.70L74.54 218.69L75.06 218.68L75.57 218.67L76.08 218.66L76.60 218.65L77.11 218.64L77.63 218.63L78.14 218.61L78.65 218.60L79.17 218.59L79.68 218.57L80.20 218.56L80.71 218.55L81.22 218.53L81.74 218.52L82.25 218.51L82.77 218.49L83.28 218.48L83.79 218.46L84.31 218.44L84.82 218.43L85.33 218.41L85.85 218.40L86.36 218.38L86.88 218.36L87.39 218.34L87.90 218.32L88.42 218.31L88.93 218.29L89.45 218.27L89.96 218.24L90.47 218.22L90.99 218.20L91.50 218.18L92.01 218.15L92.53 218.13L93.04 218.10L93.56 218.08L94.07 218.05L94.58 218.02L95.10 217.99L95.61 217.96L96.13 217.92L96.64 217.89L97.15 217.85L97.67 217.81L98.18 217.77L98.69 217.72L99.21 217.67L99.72 217.62L100.24 217.56L100.75 217.50L101.26 217.43L101.78 217.36L102.29 217.28L102.81 217.19L103.32 217.09L103.83 216.98L104.35 216.85L104.86 216.72L105.38 216.56L105.89 216.39L106.40 216.19L106.92 215.96L107.43 215.71L107.94 215.42L108.46 215.09L108.97 214.71L109.49 214.27L110.00 213.76L110.00 213.76L110.07 213.69L110.14 213.62L110.20 213.54L110.27 213.47L110.34 213.39L110.41 213.31L110.47 213.23L110.54 213.15L110.61 213.06L110.68 212.98L110.74 212.89L110.81 212.80L110.88 212.71L110.95 212.62L111.02 212.52L111.08 212.43L111.15 212.33L111.22 212.23L111.29 212.13L111.35 212.02L111.42 211.92L111.49 211.81L111.56 211.70L111.62 211.59L111.69 211.47L111.76 211.36L111.83 211.24L111.89 211.12L111.96 210.99L112.03 210.86L112.10 210.74L112.17 210.60L112.23 210.47L112.30 210.33L112.37 210.19L112.44 210.05L112.50 209.91L112.57 209.76L112.64 209.61L112.71 209.45L112.77 209.29L112.84 209.13L112.91 208.97L112.98 208.80L113.05 208.63L113.11 208.46L113.18 208.28L113.25 208.10L113.32 207.91L113.38 207.72L113.45 207.53L113.52 207.33L113.59 207.13L113.65 206.93L113.72 206.72L113.79 206.50L113.86 206.29L113.92 206.06L113.99 205.84L114.06 205.60L114.13 205.37L114.20 205.13L114.26 204.88L114.33 204.63L114.40 204.37L114.47 204.11L114.53 203.84L114.60 203.57L114.67 203.29L114.74 203.00L114.80 202.71L114.87 202.41L114.94 202.11L115.01 201.80L115.08 201.49L115.14 201.16L115.21 200.83L115.28 200.50L115.35 200.15L115.41 199.80L115.48 199.45L115.55 199.08L115.62 198.71L115.68 198.32L115.75 197.94L115.82 197.54L115.89 197.13L115.95 196.72L116.02 196.29L116.09 195.86L116.16 195.42L116.23 194.97L116.29 194.51L116.36 194.04L116.43 193.56L116.50 193.07L116.56 192.57L116.63 192.06L116.70 191.54L116.77 191.00L116.83 190.46L116.90 189.90L116.97 189.34L117.04 188.76L117.11 188.16L117.17 187.56L117.24 186.94L117.31 186.31L117.38 185.67L117.44 185.01L117.51 184.34L117.58 183.65L117.65 182.95L117.71 182.23L117.78 181.50L117.85 180.76L117.92 179.99L117.98 179.22L118.05 178.42L118.12 177.61L118.19 176.78L118.26 175.93L118.32 175.07L118.39 174.19L118.46 173.29L118.53 172.37L118.59 171.43L118.66 170.47L118.73 169.49L118.80 168.49L118.86 167.47L118.93 166.42L119.00 165.36L119.07 164.27L119.14 163.16L119.20 162.03L119.27 160.87L119.34 159.69L119.41 158.49L119.47 157.26L119.54 156.01L119.61 154.73L119.68 153.42L119.74 152.09L119.81 150.72L119.88 149.34L119.95 147.92L120.02 146.47L120.08 145.00L120.15 143.49L120.22 141.96L120.29 140.39L120.35 138.80L120.42 137.17L120.49 135.51L120.56 133.81L120.62 132.09L120.69 130.33L120.76 128.53L120.83 126.70L120.89 124.84L120.96 122.93L121.03 121.00L121.10 119.02L121.17 117.01L121.23 114.96L121.30 112.87L121.37 110.74L121.44 108.57L121.50 106.36L121.57 104.11L121.64 101.81L121.71 99.48L121.77 97.10L121.84 94.67L121.91 92.21L121.98 89.69L122.05 87.14L122.11 84.53L122.18 81.88L122.25 79.18L122.32 76.43L122.38 73.63L122.45 70.78L122.52 67.87L122.59 64.92L122.65 61.91L122.72 58.84L122.79 55.72L122.86 52.55L122.92 49.31L122.99 46.02L123.06 42.66L123.13 39.24L123.20 35.76L123.26 32.22L123.33 28.60L123.40 24.92L123.47 21.17L123.53 21.05L123.60 24.58L123.67 28.04L123.74 31.45L123.80 34.79L123.87 38.07L123.94 41.30L124.01 44.47L124.08 47.59L124.14 50.65L124.21 53.66L124.28 56.61L124.35 59.52L124.41 62.38L124.48 65.19L124.55 67.95L124.62 70.66L124.68 73.33L124.75 75.95L124.82 78.53L124.89 81.06L124.95 83.55L125.02 86.00L125.09 88.41L125.16 90.78L125.23 93.10L125.29 95.39L125.36 97.64L125.43 99.85L125.50 102.02L125.56 104.15L125.63 106.25L125.70 108.31L125.77 110.33L125.83 112.32L125.90 114.28L125.97 116.20L126.04 118.09L126.11 119.94L126.17 121.77L126.24 123.56L126.31 125.31L126.38 127.04L126.44 128.74L126.51 130.40L126.58 132.04L126.65 133.65L126.71 135.22L126.78 136.77L126.85 138.29L126.92 139.79L126.98 141.25L127.05 142.69L127.12 144.10L127.19 145.49L127.26 146.85L127.32 148.19L127.39 149.50L127.46 150.79L127.53 152.05L127.59 153.29L127.66 154.51L127.73 155.70L127.80 156.87L127.86 158.02L127.93 159.15L128.00 160.25L128.07 161.34L128.14 162.40L128.20 163.44L128.27 164.47L128.34 165.47L128.41 166.46L128.47 167.43L128.54 168.37L128.61 169.30L128.68 170.22L128.74 171.11L128.81 171.99L128.88 172.85L128.95 173.69L129.02 174.52L129.08 175.33L129.15 176.13L129.22 176.91L129.29 177.67L129.35 178.43L129.42 179.16L129.49 179.88L129.56 180.59L129.62 181.29L129.69 181.97L129.76 182.63L129.83 183.29L129.89 183.93L129.96 184.56L130.03 185.18L130.10 185.78L130.17 186.38L130.23 186.96L130.30 187.53L130.37 188.09L130.44 188.64L130.50 189.17L130.57 189.70L130.64 190.22L130.71 190.73L130.77 191.22L130.84 191.71L130.91 192.19L130.98 192.66L131.05 193.12L131.11 193.57L131.18 194.01L131.25 194.44L131.32 194.87L131.38 195.29L131.45 195.69L131.52 196.10L131.59 196.49L131.65 196.87L131.72 197.25L131.79 197.62L131.86 197.99L131.92 198.34L131.99 198.69L132.06 199.03L132.13 199.37L132.20 199.70L132.26 200.02L132.33 200.34L132.40 200.65L132.47 200.96L132.53 201.25L132.60 201.55L132.67 201.84L132.74 202.12L132.80 202.39L132.87 202.67L132.94 202.93L133.01 203.19L133.08 203.45L133.14 203.70L133.21 203.95L133.28 204.19L133.35 204.43L133.41 204.66L133.48 204.89L133.55 205.11L133.62 205.33L133.68 205.54L133.75 205.76L133.82 205.96L133.89 206.17L133.95 206.36L134.02 206.56L134.09 206.75L134.16 206.94L134.23 207.12L134.29 207.31L134.36 207.48L134.43 207.66L134.50 207.83L134.56 208.00L134.63 208.16L134.70 208.32L134.77 208.48L134.83 208.64L134.90 208.79L134.97 208.94L135.04 209.09L135.11 209.23L135.17 209.37L135.24 209.51L135.31 209.65L135.38 209.78L135.44 209.91L135.51 210.04L135.58 210.17L135.65 210.29L135.71 210.41L135.78 210.53L135.85 210.65L135.92 210.77L135.98 210.88L136.05 210.99L136.12 211.10L136.19 211.21L136.26 211.31L136.32 211.41L136.39 211.52L136.46 211.61L136.53 211.71L136.59 211.81L136.66 211.90L136.73 211.99L136.80 212.08L136.86 212.17L136.93 212.26L137.00 212.35L137.00 212.35L137.84 213.29L138.69 214.05L139.53 214.66L140.37 215.15L141.22 215.55L142.06 215.87L142.91 216.14L143.75 216.36L144.59 216.54L145.44 216.69L146.28 216.82L147.12 216.93L147.97 217.02L148.81 217.10L149.66 217.17L150.50 217.23L151.34 217.29L152.19 217.33L153.03 217.37L153.87 217.41L154.72 217.44L155.56 217.47L156.41 217.50L157.25 217.52L158.09 217.54L158.94 217.56L159.78 217.58L160.62 217.60L161.47 217.61L162.31 217.63L163.16 217.64L164.00 217.65L164.84 217.66L165.69 217.67L166.53 217.68L167.37 217.69L168.22 217.70L169.06 217.71L169.91 217.71L170.75 217.72L171.59 217.73L172.44 217.73L173.28 217.74L174.12 217.74L174.97 217.75L175.81 217.75L176.65 217.75L177.50 217.76L178.34 217.76L179.19 217.76L180.03 217.77L180.87 217.77L181.72 217.77L182.56 217.77L183.40 217.77L184.25 217.78L185.09 217.78L185.94 217.78L186.78 217.78L187.62 217.78L188.47 217.78L189.31 217.78L190.15 217.78L191.00 217.79L191.84 217.79L192.69 217.79L193.53 217.79L194.37 217.79L195.22 217.79L196.06 217.79L196.90 217.79L197.75 217.79L198.59 217.79L199.44 217.79L200.28 217.79L201.12 217.79L201.97 217.79L202.81 217.79L203.65 217.79L204.50 217.79L205.34 217.79L206.18 217.79L207.03 217.79L207.87 217.79L208.72 217.79L209.56 217.79L210.40 217.79L211.25 217.79L212.09 217.79L212.93 217.79L213.78 217.79L214.62 217.79L215.47 217.79L216.31 217.79L217.15 217.79L218.00 217.79L218.84 217.79L219.68 217.79L220.53 217.79L221.37 217.79L222.22 217.79L223.06 217.78L223.90 217.78L224.75 217.78L225.59 217.78L226.43 217.78L227.28 217.78L228.12 217.78L228.97 217.78L229.81 217.78L230.65 217.78L231.50 217.78L232.34 217.78L233.18 217.78L234.03 217.78L234.87 217.78L235.72 217.78L236.56 217.77L237.40 217.77L238.25 217.77L239.09 217.77L239.93 217.77L240.78 217.77L241.62 217.77L242.46 217.77L243.31 217.77L244.15 217.77L245.00 217.77L245.84 217.77L246.68 217.77L247.53 217.76L248.37 217.76L249.21 217.76L250.06 217.76L250.90 217.76L251.75 217.76L252.59 217.76L253.43 217.76L254.28 217.76L255.12 217.76L255.96 217.76L256.81 217.76L257.65 217.75L258.50 217.75L259.34 217.75L260.18 217.75L261.03 217.75L261.87 217.75L262.71 217.75L263.56 217.75L264.40 217.75L265.25 217.75L266.09 217.75L266.93 217.75L267.78 217.75L268.62 217.75L269.46 217.74L270.31 217.74L271.15 217.74L271.99 217.74L272.84 217.74L273.68 217.74L274.53 217.74L275.37 217.74L276.21 217.74L277.06 217.74L277.90 217.74L278.74 217.74L279.59 217.74L280.43 217.74L281.28 217.74L282.12 217.74L282.96 217.74L283.81 217.74L284.65 217.74L285.49 217.74L286.34 217.73L287.18 217.73L288.03 217.73L288.87 217.73L289.71 217.73L290.56 217.73L291.40 217.73L292.24 217.73L293.09 217.73L293.93 217.73L294.78 217.73L295.62 217.73L296.46 217.73L297.31 217.73L298.15 217.73L298.99 217.73L299.84 217.73L300.68 217.73L301.53 217.73L302.37 217.73L303.21 217.73L304.06 217.73L304.90 217.73" stroke="#00f" stroke-width="3"/></g><g clip-path="url(#cL)"><path d="M50.27 219.20V219.78M53.12 219.21V219.78M55.96 219.27V219.83M58.81 219.19V219.76M61.65 219.03V219.63M64.50 218.69V219.35M67.34 218.60V219.27M70.19 219.38V219.92M73.03 218.87V219.50M75.88 218.18V218.91M78.72 218.02V218.78M81.57 218.81V219.45M84.41 218.73V219.38M87.26 218.70V219.36M90.10 218.60V219.27M92.95 217.21V218.06M95.79 217.49V218.31M98.64 217.44V218.26M101.48 217.21V218.06M104.33 216.87V217.76M107.17 214.96V216.05M110.02 214.10V215.27M112.86 211.60V212.98M115.71 203.44V205.34M118.55 184.92V187.66M121.40 121.10V125.70M124.24 70.87V76.52M127.09 143.73V147.76M129.93 191.15V193.64M132.78 204.50V206.34M135.62 208.50V210.09M138.47 212.68V213.97M141.31 214.33V215.48M144.16 214.63V215.75M147.00 215.49V216.53M149.85 216.34V217.29M152.69 216.56V217.49M155.54 217.33V218.17M158.38 217.21V218.06M161.23 216.32V217.27M164.07 216.37V217.32M166.92 216.93V217.81M169.76 216.06V217.04M172.61 217.11V217.98M175.45 216.79V217.70M178.30 217.59V218.39M181.14 217.31V218.15M183.99 216.54V217.47M186.83 217.32V218.16M189.68 217.95V218.71M192.52 217.82V218.59M195.37 217.66V218.46M198.21 217.17V218.03M201.06 217.42V218.25M203.90 217.86V218.63M206.75 216.93V217.82M209.59 216.89V217.78M212.44 216.88V217.78M215.28 217.91V218.67M218.13 218.15V218.88M220.97 217.10V217.97M223.82 217.21V218.06M226.66 217.08V217.95M229.51 217.56V218.37M232.35 217.12V217.98M235.20 217.51V218.33M238.04 217.51V218.33M240.89 217.89V218.66M243.73 217.15V218.01M246.58 217.69V218.49M249.42 217.75V218.53M252.27 218.53V219.21M255.11 217.08V217.95M257.96 217.83V218.60M260.80 218.14V218.87M263.65 217.08V217.95M266.49 217.08V217.95M269.34 217.28V218.13M272.18 217.61V218.42M275.03 217.61V218.42M277.87 217.05V217.92M280.72 216.87V217.76M283.56 216.85V217.74M286.41 217.49V218.31M289.25 216.64V217.56M292.10 217.54V218.35M294.94 217.90V218.66M297.79 217.90V218.66M300.63 217.07V217.94M303.48 216.73V217.64" stroke="#000" stroke-width="1.5"/><circle cx="50.27" cy="219.49" r="2.1"/><circle cx="53.12" cy="219.50" r="2.1"/><circle cx="55.96" cy="219.55" r="2.1"/><circle cx="58.81" cy="219.47" r="2.1"/><circle cx="61.65" cy="219.33" r="2.1"/><circle cx="64.50" cy="219.02" r="2.1"/><circle cx="67.34" cy="218.94" r="2.1"/><circle cx="70.19" cy="219.65" r="2.1"/><circle cx="73.03" cy="219.18" r="2.1"/><circle cx="75.88" cy="218.55" r="2.1"/><circle cx="78.72" cy="218.40" r="2.1"/><circle cx="81.57" cy="219.13" r="2.1"/><circle cx="84.41" cy="219.06" r="2.1"/><circle cx="87.26" cy="219.03" r="2.1"/><circle cx="90.10" cy="218.93" r="2.1"/><circle cx="92.95" cy="217.63" r="2.1"/><circle cx="95.79" cy="217.90" r="2.1"/><circle cx="98.64" cy="217.85" r="2.1"/><circle cx="101.48" cy="217.64" r="2.1"/><circle cx="104.33" cy="217.31" r="2.1"/><circle cx="107.17" cy="215.50" r="2.1"/><circle cx="110.02" cy="214.69" r="2.1"/><circle cx="112.86" cy="212.29" r="2.1"/><circle cx="115.71" cy="204.39" r="2.1"/><circle cx="118.55" cy="186.29" r="2.1"/><circle cx="121.40" cy="123.40" r="2.1"/><circle cx="124.24" cy="73.70" r="2.1"/><circle cx="127.09" cy="145.75" r="2.1"/><circle cx="129.93" cy="192.40" r="2.1"/><circle cx="132.78" cy="205.42" r="2.1"/><circle cx="135.62" cy="209.29" r="2.1"/><circle cx="138.47" cy="213.32" r="2.1"/><circle cx="141.31" cy="214.91" r="2.1"/><circle cx="144.16" cy="215.19" r="2.1"/><circle cx="147.00" cy="216.01" r="2.1"/><circle cx="149.85" cy="216.82" r="2.1"/><circle cx="152.69" cy="217.02" r="2.1"/><circle cx="155.54" cy="217.75" r="2.1"/><circle cx="158.38" cy="217.64" r="2.1"/><circle cx="161.23" cy="216.80" r="2.1"/><circle cx="164.07" cy="216.84" r="2.1"/><circle cx="166.92" cy="217.37" r="2.1"/><circle cx="169.76" cy="216.55" r="2.1"/><circle cx="172.61" cy="217.54" r="2.1"/><circle cx="175.45" cy="217.24" r="2.1"/><circle cx="178.30" cy="217.99" r="2.1"/><circle cx="181.14" cy="217.73" r="2.1"/><circle cx="183.99" cy="217.00" r="2.1"/><circle cx="186.83" cy="217.74" r="2.1"/><circle cx="189.68" cy="218.33" r="2.1"/><circle cx="192.52" cy="218.20" r="2.1"/><circle cx="195.37" cy="218.06" r="2.1"/><circle cx="198.21" cy="217.60" r="2.1"/><circle cx="201.06" cy="217.83" r="2.1"/><circle cx="203.90" cy="218.25" r="2.1"/><circle cx="206.75" cy="217.37" r="2.1"/><circle cx="209.59" cy="217.33" r="2.1"/><circle cx="212.44" cy="217.33" r="2.1"/><circle cx="215.28" cy="218.29" r="2.1"/><circle cx="218.13" cy="218.52" r="2.1"/><circle cx="220.97" cy="217.54" r="2.1"/><circle cx="223.82" cy="217.64" r="2.1"/><circle cx="226.66" cy="217.51" r="2.1"/><circle cx="229.51" cy="217.97" r="2.1"/><circle cx="232.35" cy="217.55" r="2.1"/><circle cx="235.20" cy="217.92" r="2.1"/><circle cx="238.04" cy="217.92" r="2.1"/><circle cx="240.89" cy="218.27" r="2.1"/><circle cx="243.73" cy="217.58" r="2.1"/><circle cx="246.58" cy="218.09" r="2.1"/><circle cx="249.42" cy="218.14" r="2.1"/><circle cx="252.27" cy="218.87" r="2.1"/><circle cx="255.11" cy="217.52" r="2.1"/><circle cx="257.96" cy="218.22" r="2.1"/><circle cx="260.80" cy="218.51" r="2.1"/><circle cx="263.65" cy="217.52" r="2.1"/><circle cx="266.49" cy="217.52" r="2.1"/><circle cx="269.34" cy="217.70" r="2.1"/><circle cx="272.18" cy="218.02" r="2.1"/><circle cx="275.03" cy="218.01" r="2.1"/><circle cx="277.87" cy="217.49" r="2.1"/><circle cx="280.72" cy="217.32" r="2.1"/><circle cx="283.56" cy="217.29" r="2.1"/><circle cx="286.41" cy="217.90" r="2.1"/><circle cx="289.25" cy="217.10" r="2.1"/><circle cx="292.10" cy="217.94" r="2.1"/><circle cx="294.94" cy="218.28" r="2.1"/><circle cx="297.79" cy="218.28" r="2.1"/><circle cx="300.63" cy="217.50" r="2.1"/><circle cx="303.48" cy="217.19" r="2.1"/></g><path fill="#666" d="M48.85 254.50V261.36h2.84V254.50zM51.70 254.50V262.11h2.84V254.50zM54.54 254.50V263.65h2.84V254.50zM57.38 254.50V263.08h2.84V254.50zM60.23 254.50V261.36h2.84V254.50zM63.08 254.50V256.79h2.84V254.50zM65.92 254.50V256.22h2.84V254.50zM68.77 254.50V268.80h2.84V254.50zM71.61 254.50V261.94h2.84V254.50zM74.45 254.50V252.61h2.84V254.50zM77.30 254.50V251.35h2.84V254.50zM80.14 254.50V263.94h2.84V254.50zM82.99 254.50V263.94h2.84V254.50zM85.83 254.50V264.80h2.84V254.50zM88.68 254.50V264.80h2.84V254.50zM91.52 254.50V247.64h2.84V254.50zM94.37 254.50V253.93h2.84V254.50zM97.21 254.50V256.22h2.84V254.50zM100.06 254.50V257.65h2.84V254.50zM102.90 254.50V260.22h2.84V254.50zM105.75 254.50V258.22h2.84V254.50zM108.59 254.50V256.22h2.84V254.50zM111.44 254.50V251.35h2.84V254.50zM114.28 254.50V251.64h2.84V254.50zM117.13 254.50V245.92h2.84V254.50zM119.97 254.50V253.93h2.84V254.50zM122.82 254.50V246.21h2.84V254.50zM125.66 254.50V254.50h2.84V254.50zM128.51 254.50V259.65h2.84V254.50zM131.35 254.50V269.09h2.84V254.50zM134.20 254.50V242.49h2.84V254.50zM137.04 254.50V240.20h2.84V254.50zM139.89 254.50V241.92h2.84V254.50zM142.73 254.50V240.20h2.84V254.50zM145.58 254.50V243.63h2.84V254.50zM148.42 254.50V249.92h2.84V254.50zM151.27 254.50V250.21h2.84V254.50zM154.11 254.50V258.22h2.84V254.50zM156.96 254.50V255.64h2.84V254.50zM159.80 254.50V243.63h2.84V254.50zM162.65 254.50V243.63h2.84V254.50zM165.49 254.50V250.21h2.84V254.50zM168.34 254.50V238.77h2.84V254.50zM171.18 254.50V251.93h2.84V254.50zM174.03 254.50V247.64h2.84V254.50zM176.87 254.50V257.65h2.84V254.50zM179.72 254.50V253.93h2.84V254.50zM182.56 254.50V243.92h2.84V254.50zM185.41 254.50V253.93h2.84V254.50zM188.25 254.50V261.94h2.84V254.50zM191.10 254.50V260.22h2.84V254.50zM193.94 254.50V258.22h2.84V254.50zM196.79 254.50V251.93h2.84V254.50zM199.63 254.50V255.07h2.84V254.50zM202.48 254.50V260.79h2.84V254.50zM205.32 254.50V248.78h2.84V254.50zM208.17 254.50V248.21h2.84V254.50zM211.01 254.50V248.21h2.84V254.50zM213.86 254.50V261.36h2.84V254.50zM216.70 254.50V264.51h2.84V254.50zM219.55 254.50V251.07h2.84V254.50zM222.39 254.50V252.50h2.84V254.50zM225.24 254.50V250.78h2.84V254.50zM228.08 254.50V257.07h2.84V254.50zM230.93 254.50V251.35h2.84V254.50zM233.77 254.50V256.50h2.84V254.50zM236.62 254.50V256.50h2.84V254.50zM239.46 254.50V261.36h2.84V254.50zM242.31 254.50V251.93h2.84V254.50zM245.15 254.50V258.96h2.84V254.50zM248.00 254.50V259.65h2.84V254.50zM250.84 254.50V269.66h2.84V254.50zM253.69 254.50V251.24h2.84V254.50zM256.53 254.50V260.79h2.84V254.50zM259.38 254.50V264.80h2.84V254.50zM262.22 254.50V251.35h2.84V254.50zM265.07 254.50V251.35h2.84V254.50zM267.91 254.50V253.93h2.84V254.50zM270.76 254.50V258.22h2.84V254.50zM273.60 254.50V258.22h2.84V254.50zM276.45 254.50V251.07h2.84V254.50zM279.29 254.50V248.78h2.84V254.50zM282.14 254.50V248.49h2.84V254.50zM284.98 254.50V256.79h2.84V254.50zM287.83 254.50V245.92h2.84V254.50zM290.67 254.50V257.36h2.84V254.50zM293.52 254.50V261.94h2.84V254.50zM296.36 254.50V261.94h2.84V254.50zM299.21 254.50V251.35h2.84V254.50zM302.05 254.50V247.06h2.84V254.50z"/><path d="M48.85 254.50H304.90" stroke="#000" stroke-width="1.5" stroke-dasharray="1.5 1.7"/><path d="M48.85 321.70H304.90" stroke="#00f" stroke-width="2.2"/><g clip-path="url(#cLA)"><path d="M56.20 321.50V344.00M58.50 303.80V328.90M61.30 315.10V332.10M63.90 316.70V337.80M65.60 319.20V335.40M67.60 309.40V333.80M69.90 312.70V334.60M72.30 315.90V336.20M74.70 313.50V330.50M76.80 315.90V333.80M78.80 315.10V336.20M81.20 307.80V322.40M84.50 299.70V314.30M86.90 314.30V329.70M89.80 304.60V320.00M93.10 314.30V322.40M95.50 330.50V345.10M98.60 311.10V326.50M100.70 315.90V330.50M103.90 315.90V328.90M106.60 318.40V330.50M109.90 313.50V322.40M112.80 324.80V332.10M115.50 315.10V321.60M118.80 320.00V324.30M121.20 320.00V322.40M124.10 320.60V322.60M126.90 319.50V321.50M129.60 319.50V322.30M132.60 315.90V321.60M135.50 324.80V331.30M138.20 308.60V318.40M141.00 319.20V328.90M143.90 303.80V315.90M146.80 316.70V328.90M149.60 323.20V337.00M152.30 318.40V332.10M155.20 323.20V336.20M158.20 315.10V328.10M160.90 310.30V322.40M164.20 321.60V335.40M166.90 313.50V326.50M169.60 329.70V341.90M172.50 311.10V326.50M175.30 328.10V341.90M178.20 313.50V326.50M180.60 311.90V324.80M183.90 310.30V323.20M186.30 322.40V336.20M189.20 319.20V331.30M192.00 315.10V328.10M195.20 321.60V334.60M198.00 303.80V317.60M200.90 328.90V343.50M203.80 315.90V328.90M206.60 311.90V324.80M209.00 310.30V324.00M212.20 312.70V325.70M215.20 303.80V316.70M217.90 311.10V324.80M220.80 298.90V312.70M223.60 312.70V328.10M226.20 311.10V325.70M228.90 316.70V330.50M231.70 318.40V334.60M234.60 311.90V326.50M237.50 312.70V327.30M240.30 311.90V328.90M243.00 310.30V324.00M245.90 319.20V330.50M248.80 327.30V338.60M252.10 307.80V322.40M254.80 316.70V330.50M257.70 312.70V326.50M260.50 305.40V319.20M263.30 307.80V322.40M266.20 311.90V325.70M269.00 315.10V329.70M271.90 305.40V321.60M274.70 311.10V325.70M277.70 324.80V337.80M280.70 313.50V327.30M283.40 311.90V326.10M286.00 302.20V316.00M288.90 313.50V327.30M291.80 308.60V322.40M294.90 335.40V349.20M297.80 307.00V320.80M300.60 320.00V333.80M302.40 316.00V328.90M51.5 311V331M56.2 321.5V344M50 344H56.2" stroke="#000" stroke-width="1.5" fill="none"/><path d="M54.78 332.70h2.84M57.08 315.90h2.84M59.88 324.80h2.84M62.48 326.50h2.84M64.18 327.30h2.84M66.18 321.60h2.84M68.48 324.00h2.84M70.88 324.80h2.84M73.28 323.20h2.84M75.38 324.00h2.84M77.38 324.80h2.84M79.78 317.60h2.84M83.08 307.80h2.84M85.48 321.60h2.84M88.38 312.70h2.84M91.68 319.20h2.84M94.08 337.80h2.84M97.18 318.80h2.84M99.28 321.60h2.84M102.48 322.40h2.84M105.18 324.80h2.84M108.48 317.60h2.84M111.38 328.10h2.84M114.08 318.40h2.84M117.38 322.10h2.84M119.78 321.10h2.84M122.68 321.60h2.84M125.48 320.50h2.84M128.18 320.80h2.84M131.18 318.40h2.84M134.08 327.60h2.84M136.78 313.50h2.84M139.58 323.20h2.84M142.48 309.40h2.84M145.38 322.40h2.84M148.18 329.70h2.84M150.88 324.80h2.84M153.78 328.90h2.84M156.78 320.80h2.84M159.48 315.90h2.84M162.78 328.90h2.84M165.48 320.80h2.84M168.18 335.70h2.84M171.08 319.20h2.84M173.88 334.60h2.84M176.78 320.00h2.84M179.18 318.40h2.84M182.48 316.70h2.84M184.88 328.90h2.84M187.78 324.80h2.84M190.58 321.60h2.84M193.78 328.10h2.84M196.58 311.10h2.84M199.48 336.20h2.84M202.38 322.40h2.84M205.18 318.40h2.84M207.58 317.60h2.84M210.78 319.20h2.84M213.78 310.30h2.84M216.48 318.40h2.84M219.38 306.20h2.84M222.18 320.00h2.84M224.78 318.40h2.84M227.48 323.20h2.84M230.28 324.80h2.84M233.18 319.20h2.84M236.08 320.00h2.84M238.88 318.40h2.84M241.58 316.70h2.84M244.48 324.80h2.84M247.38 332.50h2.84M250.68 315.10h2.84M253.38 323.20h2.84M256.28 319.60h2.84M259.08 312.30h2.84M261.88 315.10h2.84M264.78 318.40h2.84M267.58 322.00h2.84M270.48 314.70h2.84M273.28 318.00h2.84M276.28 331.30h2.84M279.28 320.40h2.84M281.98 318.80h2.84M284.58 309.10h2.84M287.48 319.20h2.84M290.38 315.10h2.84M293.48 341.90h2.84M296.38 314.30h2.84M299.18 326.00h2.84M300.98 321.60h2.84" stroke="#000" stroke-width="1.2"/><circle cx="56.20" cy="332.70" r="1.9"/><circle cx="58.50" cy="315.90" r="1.9"/><circle cx="61.30" cy="324.80" r="1.9"/><circle cx="63.90" cy="326.50" r="1.9"/><circle cx="65.60" cy="327.30" r="1.9"/><circle cx="67.60" cy="321.60" r="1.9"/><circle cx="69.90" cy="324.00" r="1.9"/><circle cx="72.30" cy="324.80" r="1.9"/><circle cx="74.70" cy="323.20" r="1.9"/><circle cx="76.80" cy="324.00" r="1.9"/><circle cx="78.80" cy="324.80" r="1.9"/><circle cx="81.20" cy="317.60" r="1.9"/><circle cx="84.50" cy="307.80" r="1.9"/><circle cx="86.90" cy="321.60" r="1.9"/><circle cx="89.80" cy="312.70" r="1.9"/><circle cx="93.10" cy="319.20" r="1.9"/><circle cx="95.50" cy="337.80" r="1.9"/><circle cx="98.60" cy="318.80" r="1.9"/><circle cx="100.70" cy="321.60" r="1.9"/><circle cx="103.90" cy="322.40" r="1.9"/><circle cx="106.60" cy="324.80" r="1.9"/><circle cx="109.90" cy="317.60" r="1.9"/><circle cx="112.80" cy="328.10" r="1.9"/><circle cx="115.50" cy="318.40" r="1.9"/><circle cx="118.80" cy="322.10" r="1.9"/><circle cx="121.20" cy="321.10" r="1.9"/><circle cx="124.10" cy="321.60" r="1.9"/><circle cx="126.90" cy="320.50" r="1.9"/><circle cx="129.60" cy="320.80" r="1.9"/><circle cx="132.60" cy="318.40" r="1.9"/><circle cx="135.50" cy="327.60" r="1.9"/><circle cx="138.20" cy="313.50" r="1.9"/><circle cx="141.00" cy="323.20" r="1.9"/><circle cx="143.90" cy="309.40" r="1.9"/><circle cx="146.80" cy="322.40" r="1.9"/><circle cx="149.60" cy="329.70" r="1.9"/><circle cx="152.30" cy="324.80" r="1.9"/><circle cx="155.20" cy="328.90" r="1.9"/><circle cx="158.20" cy="320.80" r="1.9"/><circle cx="160.90" cy="315.90" r="1.9"/><circle cx="164.20" cy="328.90" r="1.9"/><circle cx="166.90" cy="320.80" r="1.9"/><circle cx="169.60" cy="335.70" r="1.9"/><circle cx="172.50" cy="319.20" r="1.9"/><circle cx="175.30" cy="334.60" r="1.9"/><circle cx="178.20" cy="320.00" r="1.9"/><circle cx="180.60" cy="318.40" r="1.9"/><circle cx="183.90" cy="316.70" r="1.9"/><circle cx="186.30" cy="328.90" r="1.9"/><circle cx="189.20" cy="324.80" r="1.9"/><circle cx="192.00" cy="321.60" r="1.9"/><circle cx="195.20" cy="328.10" r="1.9"/><circle cx="198.00" cy="311.10" r="1.9"/><circle cx="200.90" cy="336.20" r="1.9"/><circle cx="203.80" cy="322.40" r="1.9"/><circle cx="206.60" cy="318.40" r="1.9"/><circle cx="209.00" cy="317.60" r="1.9"/><circle cx="212.20" cy="319.20" r="1.9"/><circle cx="215.20" cy="310.30" r="1.9"/><circle cx="217.90" cy="318.40" r="1.9"/><circle cx="220.80" cy="306.20" r="1.9"/><circle cx="223.60" cy="320.00" r="1.9"/><circle cx="226.20" cy="318.40" r="1.9"/><circle cx="228.90" cy="323.20" r="1.9"/><circle cx="231.70" cy="324.80" r="1.9"/><circle cx="234.60" cy="319.20" r="1.9"/><circle cx="237.50" cy="320.00" r="1.9"/><circle cx="240.30" cy="318.40" r="1.9"/><circle cx="243.00" cy="316.70" r="1.9"/><circle cx="245.90" cy="324.80" r="1.9"/><circle cx="248.80" cy="332.50" r="1.9"/><circle cx="252.10" cy="315.10" r="1.9"/><circle cx="254.80" cy="323.20" r="1.9"/><circle cx="257.70" cy="319.60" r="1.9"/><circle cx="260.50" cy="312.30" r="1.9"/><circle cx="263.30" cy="315.10" r="1.9"/><circle cx="266.20" cy="318.40" r="1.9"/><circle cx="269.00" cy="322.00" r="1.9"/><circle cx="271.90" cy="314.70" r="1.9"/><circle cx="274.70" cy="318.00" r="1.9"/><circle cx="277.70" cy="331.30" r="1.9"/><circle cx="280.70" cy="320.40" r="1.9"/><circle cx="283.40" cy="318.80" r="1.9"/><circle cx="286.00" cy="309.10" r="1.9"/><circle cx="288.90" cy="319.20" r="1.9"/><circle cx="291.80" cy="315.10" r="1.9"/><circle cx="294.90" cy="341.90" r="1.9"/><circle cx="297.80" cy="314.30" r="1.9"/><circle cx="300.60" cy="326.00" r="1.9"/><circle cx="302.40" cy="321.60" r="1.9"/></g><g clip-path="url(#cR)" fill="none" stroke-linejoin="round"><path d="M304.90 221.50L305.33 221.50L305.76 221.50L306.18 221.50L306.61 221.50L307.04 221.50L307.47 221.50L307.90 221.50L308.32 221.50L308.75 221.50L309.18 221.50L309.61 221.49L310.04 221.49L310.46 221.49L310.89 221.49L311.32 221.49L311.75 221.49L312.18 221.49L312.60 221.48L313.03 221.48L313.46 221.48L313.89 221.48L314.32 221.48L314.75 221.47L315.17 221.47L315.60 221.47L316.03 221.47L316.46 221.46L316.89 221.46L317.31 221.46L317.74 221.45L318.17 221.45L318.60 221.45L319.03 221.44L319.45 221.44L319.88 221.44L320.31 221.43L320.74 221.43L321.17 221.43L321.59 221.42L322.02 221.42L322.45 221.41L322.88 221.41L323.31 221.40L323.73 221.40L324.16 221.39L324.59 221.39L325.02 221.38L325.45 221.38L325.87 221.37L326.30 221.37L326.73 221.36L327.16 221.36L327.59 221.35L328.01 221.35L328.44 221.34L328.87 221.33L329.30 221.33L329.73 221.32L330.15 221.31L330.58 221.31L331.01 221.30L331.44 221.29L331.87 221.29L332.29 221.28L332.72 221.27L333.15 221.26L333.58 221.26L334.01 221.25L334.44 221.24L334.86 221.23L335.29 221.22L335.72 221.22L336.15 221.21L336.58 221.20L337.00 221.19L337.43 221.18L337.86 221.17L338.29 221.16L338.72 221.15L339.14 221.14L339.57 221.13L340.00 221.12L340.43 221.11L340.86 221.10L341.28 221.09L341.71 221.08L342.14 221.07L342.57 221.06L343.00 221.05L343.42 221.04L343.85 221.03L344.28 221.02L344.71 221.01L345.14 221.00L345.56 220.98L345.99 220.95L346.42 220.92L346.85 220.88L347.28 220.84L347.70 220.79L348.13 220.73L348.56 220.68L348.99 220.61L349.42 220.55L349.84 220.48L350.27 220.41L350.70 220.33L351.13 220.26L351.56 220.18L351.99 220.10L352.41 220.02L352.84 219.95L353.27 219.87L353.70 219.79L354.13 219.72L354.55 219.65L354.98 219.58L355.41 219.51L355.84 219.45L356.27 219.39L356.69 219.34L357.12 219.29L357.55 219.24L357.98 219.20L358.41 219.16L358.83 219.12L359.26 219.08L359.69 219.05L360.12 219.02L360.55 218.98L360.97 218.95L361.40 218.92L361.83 218.89L362.26 218.86L362.69 218.83L363.11 218.79L363.54 218.76L363.97 218.72L364.40 218.68L364.83 218.64L365.25 218.60L365.68 218.55L366.11 218.50L366.54 218.45L366.97 218.39L367.39 218.33L367.82 218.26L368.25 218.18L368.68 218.07L369.11 217.96L369.54 217.82L369.96 217.68L370.39 217.52L370.82 217.35L371.25 217.17L371.68 216.98L372.10 216.79L372.53 216.59L372.96 216.39L373.39 216.18L373.82 215.97L374.24 215.77L374.67 215.56L375.10 215.36L375.53 215.16L375.96 214.97L376.38 214.79L376.81 214.61L377.24 214.45L377.67 214.29L378.10 214.13L378.52 213.97L378.95 213.82L379.38 213.68L379.81 213.53L380.24 213.39L380.66 213.24L381.09 213.10L381.52 212.96L381.95 212.82L382.38 212.67L382.80 212.53L383.23 212.38L383.66 212.24L384.09 212.09L384.52 211.93L384.94 211.78L385.37 211.62L385.80 211.45L386.23 211.29L386.66 211.11L387.08 210.93L387.51 210.75L387.94 210.56L388.37 210.36L388.80 210.16L389.23 209.94L389.65 209.72L390.08 209.49L390.51 209.24L390.94 209.00L391.37 208.74L391.79 208.47L392.22 208.20L392.65 207.93L393.08 207.65L393.51 207.36L393.93 207.06L394.36 206.77L394.79 206.46L395.22 206.16L395.65 205.85L396.07 205.53L396.50 205.22L396.93 204.90L397.36 204.58L397.79 204.26L398.21 203.94L398.64 203.61L399.07 203.28L399.50 202.95L399.93 202.61L400.35 202.26L400.78 201.91L401.21 201.56L401.64 201.20L402.07 200.83L402.49 200.45L402.92 200.07L403.35 199.69L403.78 199.29L404.21 198.89L404.63 198.48L405.06 198.07L405.49 197.64L405.92 197.21L406.35 196.77L406.78 196.31L407.20 195.85L407.63 195.38L408.06 194.89L408.49 194.40L408.92 193.89L409.34 193.37L409.77 192.85L410.20 192.31L410.63 191.76L411.06 191.20L411.48 190.64L411.91 190.06L412.34 189.48L412.77 188.89L413.20 188.29L413.62 187.68L414.05 187.06L414.48 186.44L414.91 185.81L415.34 185.17L415.76 184.52L416.19 183.87L416.62 183.21L417.05 182.53L417.48 181.82L417.90 181.08L418.33 180.31L418.76 179.53L419.19 178.73L419.62 177.92L420.04 177.10L420.47 176.27L420.90 175.44L421.33 174.61L421.76 173.79L422.18 172.97L422.61 172.16L423.04 171.37L423.47 170.60L423.90 169.84L424.33 169.12L424.75 168.41L425.18 167.74L425.61 167.08L426.04 166.44L426.47 165.80L426.89 165.18L427.32 164.57L427.75 163.96L428.18 163.35L428.61 162.74L429.03 162.12L429.46 161.50L429.89 160.86L430.32 160.19L430.75 159.49L431.17 158.77L431.60 158.04L432.03 157.32L432.46 156.61L432.89 155.93L433.31 155.28L433.74 154.68L434.17 154.14L434.60 153.66L435.03 153.26L435.45 152.92L435.88 152.58L436.31 152.24L436.74 151.91L437.17 151.60L437.59 151.30L438.02 151.02L438.45 150.76L438.88 150.53L439.31 150.33L439.73 150.17L440.16 150.04L440.59 149.95L441.02 149.90L441.45 149.91L441.87 149.95L442.30 150.03L442.73 150.15L443.16 150.29L443.59 150.46L444.02 150.65L444.44 150.86L444.87 151.09L445.30 151.32L445.73 151.56L446.16 151.83L446.58 152.18L447.01 152.59L447.44 153.06L447.87 153.57L448.30 154.13L448.72 154.70L449.15 155.30L449.58 155.89L450.01 156.49L450.44 157.12L450.86 157.79L451.29 158.49L451.72 159.22L452.15 159.97L452.58 160.75L453.00 161.56L453.43 162.38L453.86 163.22L454.29 164.08L454.72 164.95L455.14 165.86L455.57 166.81L456.00 167.79L456.43 168.79L456.86 169.82L457.28 170.87L457.71 171.93L458.14 173.00L458.57 174.07L459.00 175.14L459.42 176.27L459.85 177.46L460.28 178.68L460.71 179.90L461.14 181.10L461.57 182.26L461.99 183.34L462.42 184.33L462.85 185.22L463.28 186.05L463.71 186.83L464.13 187.57L464.56 188.29L464.99 188.99L465.42 189.68L465.85 190.39L466.27 191.11L466.70 191.85L467.13 192.61L467.56 193.36L467.99 194.12L468.41 194.87L468.84 195.62L469.27 196.37L469.70 197.12L470.13 197.86L470.55 198.59L470.98 199.35L471.41 200.14L471.84 200.95L472.27 201.77L472.69 202.60L473.12 203.41L473.55 204.20L473.98 204.95L474.41 205.66L474.83 206.31L475.26 206.90L475.69 207.40L476.12 207.82L476.55 208.19L476.97 208.55L477.40 208.91L477.83 209.26L478.26 209.60L478.69 209.93L479.12 210.24L479.54 210.54L479.97 210.82L480.40 211.07L480.83 211.31L481.26 211.51L481.68 211.69L482.11 211.84L482.54 211.96L482.97 212.04L483.40 212.09L483.82 212.10L484.25 212.10L484.68 212.09L485.11 212.07L485.54 212.05L485.96 212.03L486.39 212.00L486.82 211.97L487.25 211.93L487.68 211.89L488.10 211.85L488.53 211.81L488.96 211.76L489.39 211.71L489.82 211.65L490.24 211.60L490.67 211.54L491.10 211.48L491.53 211.42L491.96 211.36L492.38 211.30L492.81 211.23L493.24 211.17L493.67 211.11L494.10 211.04L494.52 210.98L494.95 210.91L495.38 210.84L495.81 210.75L496.24 210.66L496.66 210.57L497.09 210.47L497.52 210.36L497.95 210.25L498.38 210.13L498.81 210.01L499.23 209.89L499.66 209.76L500.09 209.63L500.52 209.50L500.95 209.36L501.37 209.22L501.80 209.08L502.23 208.94L502.66 208.80L503.09 208.66L503.51 208.51L503.94 208.37L504.37 208.23L504.80 208.09L505.23 207.95L505.65 207.81L506.08 207.67L506.51 207.54L506.94 207.41L507.37 207.28L507.79 207.15L508.22 207.03L508.65 206.92L509.08 206.81L509.51 206.70L509.93 206.59L510.36 206.49L510.79 206.38L511.22 206.27L511.65 206.17L512.07 206.06L512.50 205.95L512.93 205.84L513.36 205.73L513.79 205.63L514.21 205.52L514.64 205.41L515.07 205.31L515.50 205.20L515.93 205.10L516.36 204.99L516.78 204.89L517.21 204.79L517.64 204.70L518.07 204.60L518.50 204.51L518.92 204.41L519.35 204.33L519.78 204.24L520.21 204.16L520.64 204.07L521.06 204.00L521.49 203.92L521.92 203.85L522.35 203.78L522.78 203.72L523.20 203.66L523.63 203.60L524.06 203.55L524.49 203.50L524.92 203.46L525.34 203.41L525.77 203.36L526.20 203.32L526.63 203.27L527.06 203.23L527.48 203.19L527.91 203.15L528.34 203.11L528.77 203.08L529.20 203.06L529.62 203.03L530.05 203.02L530.48 203.01L530.91 203.00L531.34 203.01L531.76 203.03L532.19 203.07L532.62 203.14L533.05 203.21L533.48 203.30L533.91 203.41L534.33 203.53L534.76 203.66L535.19 203.80L535.62 203.95L536.05 204.11L536.47 204.27L536.90 204.44L537.33 204.62L537.76 204.80L538.19 204.99L538.61 205.17L539.04 205.36L539.47 205.54L539.90 205.73L540.33 205.95L540.75 206.18L541.18 206.43L541.61 206.70L542.04 206.99L542.47 207.29L542.89 207.60L543.32 207.93L543.75 208.27L544.18 208.62L544.61 208.97L545.03 209.34L545.46 209.71L545.89 210.08L546.32 210.45L546.75 210.83L547.17 211.21L547.60 211.58L548.03 211.95L548.46 212.33L548.89 212.71L549.31 213.12L549.74 213.54L550.17 213.96L550.60 214.40L551.03 214.84L551.45 215.29L551.88 215.73L552.31 216.17L552.74 216.61L553.17 217.05L553.60 217.47L554.02 217.88L554.45 218.28L554.88 218.66L555.31 219.05L555.74 219.44L556.16 219.81L556.59 220.17L557.02 220.49L557.45 220.77L557.88 221.03L558.30 221.29L558.73 221.46L559.16 221.50L559.59 221.50L560.02 221.50L560.44 221.50L560.87 221.50L561.30 221.50" stroke="#000" stroke-width="2.4" stroke-dasharray="19 5.5"/><path d="M304.90 221.50L305.33 221.50L305.76 221.50L306.18 221.50L306.61 221.50L307.04 221.50L307.47 221.50L307.90 221.50L308.32 221.50L308.75 221.50L309.18 221.50L309.61 221.50L310.04 221.50L310.46 221.50L310.89 221.50L311.32 221.50L311.75 221.50L312.18 221.50L312.60 221.50L313.03 221.50L313.46 221.50L313.89 221.50L314.32 221.50L314.75 221.50L315.17 221.50L315.60 221.50L316.03 221.50L316.46 221.50L316.89 221.50L317.31 221.50L317.74 221.50L318.17 221.50L318.60 221.50L319.03 221.50L319.45 221.50L319.88 221.50L320.31 221.50L320.74 221.50L321.17 221.50L321.59 221.50L322.02 221.50L322.45 221.50L322.88 221.50L323.31 221.50L323.73 221.50L324.16 221.50L324.59 221.50L325.02 221.50L325.45 221.50L325.87 221.50L326.30 221.50L326.73 221.50L327.16 221.50L327.59 221.50L328.01 221.50L328.44 221.50L328.87 221.50L329.30 221.50L329.73 221.50L330.15 221.50L330.58 221.50L331.01 221.50L331.44 221.50L331.87 221.50L332.29 221.50L332.72 221.50L333.15 221.50L333.58 221.50L334.01 221.50L334.44 221.50L334.86 221.50L335.29 221.50L335.72 221.49L336.15 221.49L336.58 221.49L337.00 221.49L337.43 221.49L337.86 221.49L338.29 221.49L338.72 221.49L339.14 221.49L339.57 221.49L340.00 221.49L340.43 221.49L340.86 221.49L341.28 221.49L341.71 221.49L342.14 221.49L342.57 221.49L343.00 221.49L343.42 221.49L343.85 221.49L344.28 221.49L344.71 221.49L345.14 221.49L345.56 221.49L345.99 221.49L346.42 221.49L346.85 221.49L347.28 221.49L347.70 221.49L348.13 221.49L348.56 221.49L348.99 221.49L349.42 221.49L349.84 221.49L350.27 221.49L350.70 221.49L351.13 221.49L351.56 221.49L351.99 221.49L352.41 221.49L352.84 221.49L353.27 221.49L353.70 221.49L354.13 221.49L354.55 221.49L354.98 221.49L355.41 221.49L355.84 221.48L356.27 221.48L356.69 221.48L357.12 221.48L357.55 221.48L357.98 221.48L358.41 221.48L358.83 221.48L359.26 221.48L359.69 221.48L360.12 221.48L360.55 221.48L360.97 221.48L361.40 221.48L361.83 221.48L362.26 221.48L362.69 221.48L363.11 221.48L363.54 221.48L363.97 221.48L364.40 221.48L364.83 221.48L365.25 221.48L365.68 221.48L366.11 221.48L366.54 221.48L366.97 221.48L367.39 221.48L367.82 221.48L368.25 221.48L368.68 221.47L369.11 221.47L369.54 221.47L369.96 221.47L370.39 221.47L370.82 221.47L371.25 221.47L371.68 221.47L372.10 221.47L372.53 221.47L372.96 221.47L373.39 221.47L373.82 221.47L374.24 221.47L374.67 221.47L375.10 221.47L375.53 221.47L375.96 221.47L376.38 221.47L376.81 221.47L377.24 221.47L377.67 221.47L378.10 221.47L378.52 221.47L378.95 221.46L379.38 221.46L379.81 221.46L380.24 221.46L380.66 221.46L381.09 221.46L381.52 221.46L381.95 221.46L382.38 221.46L382.80 221.46L383.23 221.46L383.66 221.46L384.09 221.46L384.52 221.46L384.94 221.46L385.37 221.46L385.80 221.46L386.23 221.46L386.66 221.46L387.08 221.46L387.51 221.45L387.94 221.45L388.37 221.45L388.80 221.45L389.23 221.45L389.65 221.45L390.08 221.45L390.51 221.45L390.94 221.45L391.37 221.45L391.79 221.45L392.22 221.45L392.65 221.45L393.08 221.45L393.51 221.45L393.93 221.45L394.36 221.45L394.79 221.44L395.22 221.44L395.65 221.44L396.07 221.44L396.50 221.44L396.93 221.44L397.36 221.44L397.79 221.44L398.21 221.44L398.64 221.44L399.07 221.44L399.50 221.44L399.93 221.44L400.35 221.44L400.78 221.44L401.21 221.43L401.64 221.43L402.07 221.43L402.49 221.43L402.92 221.43L403.35 221.43L403.78 221.43L404.21 221.43L404.63 221.43L405.06 221.43L405.49 221.43L405.92 221.43L406.35 221.43L406.78 221.43L407.20 221.42L407.63 221.42L408.06 221.42L408.49 221.42L408.92 221.42L409.34 221.42L409.77 221.42L410.20 221.42L410.63 221.42L411.06 221.42L411.48 221.42L411.91 221.42L412.34 221.42L412.77 221.41L413.20 221.41L413.62 221.41L414.05 221.41L414.48 221.41L414.91 221.41L415.34 221.41L415.76 221.41L416.19 221.41L416.62 221.41L417.05 221.41L417.48 221.41L417.90 221.40L418.33 221.40L418.76 221.40L419.19 221.40L419.62 221.40L420.04 221.40L420.47 221.40L420.90 221.40L421.33 221.40L421.76 221.39L422.18 221.39L422.61 221.39L423.04 221.38L423.47 221.38L423.90 221.38L424.33 221.37L424.75 221.37L425.18 221.36L425.61 221.36L426.04 221.35L426.47 221.35L426.89 221.34L427.32 221.34L427.75 221.33L428.18 221.32L428.61 221.31L429.03 221.31L429.46 221.30L429.89 221.29L430.32 221.28L430.75 221.27L431.17 221.26L431.60 221.25L432.03 221.24L432.46 221.23L432.89 221.22L433.31 221.21L433.74 221.20L434.17 221.19L434.60 221.18L435.03 221.16L435.45 221.15L435.88 221.14L436.31 221.13L436.74 221.11L437.17 221.10L437.59 221.09L438.02 221.07L438.45 221.06L438.88 221.04L439.31 221.03L439.73 221.01L440.16 221.00L440.59 220.98L441.02 220.96L441.45 220.95L441.87 220.93L442.30 220.91L442.73 220.90L443.16 220.88L443.59 220.86L444.02 220.84L444.44 220.82L444.87 220.81L445.30 220.79L445.73 220.76L446.16 220.73L446.58 220.70L447.01 220.66L447.44 220.62L447.87 220.57L448.30 220.52L448.72 220.47L449.15 220.42L449.58 220.36L450.01 220.30L450.44 220.23L450.86 220.16L451.29 220.10L451.72 220.02L452.15 219.95L452.58 219.88L453.00 219.80L453.43 219.72L453.86 219.64L454.29 219.56L454.72 219.48L455.14 219.40L455.57 219.32L456.00 219.24L456.43 219.16L456.86 219.08L457.28 218.99L457.71 218.91L458.14 218.83L458.57 218.76L459.00 218.68L459.42 218.60L459.85 218.53L460.28 218.45L460.71 218.38L461.14 218.31L461.57 218.23L461.99 218.16L462.42 218.09L462.85 218.02L463.28 217.94L463.71 217.87L464.13 217.80L464.56 217.73L464.99 217.65L465.42 217.58L465.85 217.51L466.27 217.43L466.70 217.36L467.13 217.29L467.56 217.21L467.99 217.14L468.41 217.06L468.84 216.98L469.27 216.91L469.70 216.83L470.13 216.75L470.55 216.67L470.98 216.59L471.41 216.51L471.84 216.43L472.27 216.34L472.69 216.26L473.12 216.17L473.55 216.09L473.98 216.00L474.41 215.91L474.83 215.82L475.26 215.73L475.69 215.63L476.12 215.54L476.55 215.44L476.97 215.34L477.40 215.25L477.83 215.14L478.26 215.04L478.69 214.94L479.12 214.83L479.54 214.72L479.97 214.61L480.40 214.50L480.83 214.38L481.26 214.27L481.68 214.15L482.11 214.03L482.54 213.90L482.97 213.77L483.40 213.64L483.82 213.51L484.25 213.37L484.68 213.23L485.11 213.08L485.54 212.93L485.96 212.78L486.39 212.63L486.82 212.47L487.25 212.30L487.68 212.14L488.10 211.97L488.53 211.79L488.96 211.62L489.39 211.44L489.82 211.25L490.24 211.06L490.67 210.87L491.10 210.68L491.53 210.48L491.96 210.27L492.38 210.06L492.81 209.85L493.24 209.64L493.67 209.42L494.10 209.19L494.52 208.96L494.95 208.73L495.38 208.50L495.81 208.26L496.24 208.01L496.66 207.76L497.09 207.50L497.52 207.22L497.95 206.93L498.38 206.63L498.81 206.31L499.23 205.97L499.66 205.63L500.09 205.27L500.52 204.91L500.95 204.53L501.37 204.15L501.80 203.75L502.23 203.35L502.66 202.94L503.09 202.52L503.51 202.10L503.94 201.67L504.37 201.24L504.80 200.81L505.23 200.37L505.65 199.93L506.08 199.49L506.51 199.05L506.94 198.61L507.37 198.17L507.79 197.73L508.22 197.29L508.65 196.85L509.08 196.42L509.51 195.99L509.93 195.57L510.36 195.13L510.79 194.69L511.22 194.24L511.65 193.79L512.07 193.33L512.50 192.87L512.93 192.41L513.36 191.94L513.79 191.47L514.21 190.99L514.64 190.52L515.07 190.04L515.50 189.56L515.93 189.08L516.36 188.60L516.78 188.11L517.21 187.63L517.64 187.15L518.07 186.68L518.50 186.20L518.92 185.72L519.35 185.25L519.78 184.78L520.21 184.32L520.64 183.85L521.06 183.40L521.49 182.94L521.92 182.50L522.35 182.05L522.78 181.61L523.20 181.16L523.63 180.70L524.06 180.25L524.49 179.79L524.92 179.34L525.34 178.89L525.77 178.46L526.20 178.04L526.63 177.64L527.06 177.25L527.48 176.90L527.91 176.56L528.34 176.25L528.77 175.92L529.20 175.58L529.62 175.25L530.05 174.92L530.48 174.61L530.91 174.32L531.34 174.07L531.76 173.85L532.19 173.68L532.62 173.56L533.05 173.50L533.48 173.50L533.91 173.52L534.33 173.55L534.76 173.60L535.19 173.66L535.62 173.72L536.05 173.80L536.47 173.89L536.90 173.98L537.33 174.09L537.76 174.26L538.19 174.48L538.61 174.75L539.04 175.05L539.47 175.39L539.90 175.78L540.33 176.29L540.75 176.90L541.18 177.62L541.61 178.42L542.04 179.29L542.47 180.22L542.89 181.20L543.32 182.21L543.75 183.25L544.18 184.30L544.61 185.35L545.03 186.38L545.46 187.45L545.89 188.60L546.32 189.80L546.75 191.06L547.17 192.36L547.60 193.69L548.03 195.04L548.46 196.40L548.89 197.76L549.31 199.11L549.74 200.43L550.17 201.73L550.60 202.98L551.03 204.27L551.45 205.59L551.88 206.93L552.31 208.28L552.74 209.61L553.17 210.92L553.60 212.20L554.02 213.42L554.45 214.59L554.88 215.68L555.31 216.67L555.74 217.57L556.16 218.46L556.59 219.36L557.02 220.17L557.45 220.80L557.88 221.16L558.30 221.25L558.73 221.32L559.16 221.37L559.59 221.42L560.02 221.45L560.44 221.48L560.87 221.49L561.30 221.50" stroke="#f00" stroke-width="2.7" stroke-dasharray="3 2.6"/><path d="M304.90 221.50L305.33 221.50L305.76 221.50L306.18 221.50L306.61 221.50L307.04 221.50L307.47 221.50L307.90 221.50L308.32 221.50L308.75 221.50L309.18 221.50L309.61 221.50L310.04 221.50L310.46 221.50L310.89 221.50L311.32 221.50L311.75 221.50L312.18 221.50L312.60 221.50L313.03 221.50L313.46 221.50L313.89 221.50L314.32 221.50L314.75 221.49L315.17 221.49L315.60 221.49L316.03 221.49L316.46 221.49L316.89 221.49L317.31 221.49L317.74 221.49L318.17 221.49L318.60 221.49L319.03 221.49L319.45 221.49L319.88 221.49L320.31 221.49L320.74 221.49L321.17 221.48L321.59 221.48L322.02 221.48L322.45 221.48L322.88 221.48L323.31 221.48L323.73 221.48L324.16 221.48L324.59 221.48L325.02 221.48L325.45 221.47L325.87 221.47L326.30 221.47L326.73 221.47L327.16 221.47L327.59 221.47L328.01 221.47L328.44 221.47L328.87 221.46L329.30 221.46L329.73 221.46L330.15 221.46L330.58 221.46L331.01 221.46L331.44 221.45L331.87 221.45L332.29 221.45L332.72 221.45L333.15 221.45L333.58 221.45L334.01 221.44L334.44 221.44L334.86 221.44L335.29 221.44L335.72 221.44L336.15 221.43L336.58 221.43L337.00 221.43L337.43 221.43L337.86 221.43L338.29 221.42L338.72 221.42L339.14 221.42L339.57 221.42L340.00 221.41L340.43 221.41L340.86 221.41L341.28 221.41L341.71 221.40L342.14 221.40L342.57 221.40L343.00 221.40L343.42 221.39L343.85 221.39L344.28 221.39L344.71 221.38L345.14 221.38L345.56 221.38L345.99 221.37L346.42 221.37L346.85 221.37L347.28 221.37L347.70 221.36L348.13 221.36L348.56 221.36L348.99 221.35L349.42 221.35L349.84 221.35L350.27 221.34L350.70 221.34L351.13 221.33L351.56 221.33L351.99 221.33L352.41 221.32L352.84 221.32L353.27 221.32L353.70 221.31L354.13 221.31L354.55 221.30L354.98 221.30L355.41 221.29L355.84 221.28L356.27 221.26L356.69 221.24L357.12 221.21L357.55 221.17L357.98 221.13L358.41 221.09L358.83 221.04L359.26 220.99L359.69 220.94L360.12 220.88L360.55 220.82L360.97 220.75L361.40 220.68L361.83 220.61L362.26 220.54L362.69 220.47L363.11 220.40L363.54 220.32L363.97 220.24L364.40 220.17L364.83 220.09L365.25 220.01L365.68 219.94L366.11 219.86L366.54 219.78L366.97 219.71L367.39 219.63L367.82 219.56L368.25 219.49L368.68 219.41L369.11 219.34L369.54 219.26L369.96 219.18L370.39 219.10L370.82 219.01L371.25 218.93L371.68 218.84L372.10 218.75L372.53 218.66L372.96 218.57L373.39 218.48L373.82 218.39L374.24 218.29L374.67 218.19L375.10 218.09L375.53 217.99L375.96 217.89L376.38 217.79L376.81 217.68L377.24 217.57L377.67 217.47L378.10 217.36L378.52 217.25L378.95 217.13L379.38 217.02L379.81 216.90L380.24 216.79L380.66 216.67L381.09 216.55L381.52 216.42L381.95 216.29L382.38 216.16L382.80 216.03L383.23 215.89L383.66 215.75L384.09 215.60L384.52 215.45L384.94 215.30L385.37 215.15L385.80 215.00L386.23 214.84L386.66 214.68L387.08 214.51L387.51 214.35L387.94 214.18L388.37 214.01L388.80 213.84L389.23 213.67L389.65 213.50L390.08 213.32L390.51 213.15L390.94 212.97L391.37 212.79L391.79 212.61L392.22 212.43L392.65 212.25L393.08 212.07L393.51 211.89L393.93 211.70L394.36 211.52L394.79 211.33L395.22 211.14L395.65 210.94L396.07 210.74L396.50 210.54L396.93 210.34L397.36 210.12L397.79 209.91L398.21 209.69L398.64 209.46L399.07 209.23L399.50 208.99L399.93 208.74L400.35 208.49L400.78 208.23L401.21 207.96L401.64 207.69L402.07 207.41L402.49 207.12L402.92 206.82L403.35 206.52L403.78 206.20L404.21 205.88L404.63 205.54L405.06 205.20L405.49 204.84L405.92 204.47L406.35 204.10L406.78 203.71L407.20 203.31L407.63 202.89L408.06 202.46L408.49 202.01L408.92 201.55L409.34 201.07L409.77 200.58L410.20 200.07L410.63 199.55L411.06 199.01L411.48 198.46L411.91 197.90L412.34 197.32L412.77 196.73L413.20 196.12L413.62 195.50L414.05 194.87L414.48 194.22L414.91 193.56L415.34 192.89L415.76 192.21L416.19 191.51L416.62 190.80L417.05 190.05L417.48 189.26L417.90 188.44L418.33 187.58L418.76 186.68L419.19 185.76L419.62 184.82L420.04 183.85L420.47 182.86L420.90 181.87L421.33 180.85L421.76 179.84L422.18 178.81L422.61 177.79L423.04 176.77L423.47 175.75L423.90 174.74L424.33 173.74L424.75 172.73L425.18 171.72L425.61 170.69L426.04 169.66L426.47 168.62L426.89 167.57L427.32 166.52L427.75 165.45L428.18 164.37L428.61 163.28L429.03 162.18L429.46 161.08L429.89 159.95L430.32 158.82L430.75 157.67L431.17 156.50L431.60 155.31L432.03 154.11L432.46 152.90L432.89 151.67L433.31 150.44L433.74 149.20L434.17 147.96L434.60 146.71L435.03 145.44L435.45 144.15L435.88 142.84L436.31 141.53L436.74 140.22L437.17 138.93L437.59 137.66L438.02 136.44L438.45 135.24L438.88 134.07L439.31 132.93L439.73 131.79L440.16 130.67L440.59 129.55L441.02 128.43L441.45 127.30L441.87 126.17L442.30 125.01L442.73 123.85L443.16 122.68L443.59 121.53L444.02 120.40L444.44 119.30L444.87 118.24L445.30 117.23L445.73 116.20L446.16 115.16L446.58 114.15L447.01 113.18L447.44 112.28L447.87 111.47L448.30 110.78L448.72 110.21L449.15 109.65L449.58 109.10L450.01 108.58L450.44 108.11L450.86 107.71L451.29 107.40L451.72 107.19L452.15 107.10L452.58 107.13L453.00 107.23L453.43 107.39L453.86 107.60L454.29 107.87L454.72 108.17L455.14 108.50L455.57 108.87L456.00 109.43L456.43 110.24L456.86 111.24L457.28 112.37L457.71 113.56L458.14 114.76L458.57 115.95L459.00 117.25L459.42 118.63L459.85 120.09L460.28 121.60L460.71 123.15L461.14 124.71L461.57 126.26L461.99 127.84L462.42 129.44L462.85 131.10L463.28 132.83L463.71 134.64L464.13 136.57L464.56 138.63L464.99 140.83L465.42 143.12L465.85 145.49L466.27 147.92L466.70 150.38L467.13 152.86L467.56 155.31L467.99 157.73L468.41 160.10L468.84 162.37L469.27 164.55L469.70 166.68L470.13 168.80L470.55 170.91L470.98 173.00L471.41 175.06L471.84 177.08L472.27 179.06L472.69 180.99L473.12 182.87L473.55 184.68L473.98 186.43L474.41 188.10L474.83 189.75L475.26 191.38L475.69 192.97L476.12 194.53L476.55 196.05L476.97 197.51L477.40 198.92L477.83 200.26L478.26 201.53L478.69 202.73L479.12 203.84L479.54 204.89L479.97 205.91L480.40 206.90L480.83 207.86L481.26 208.77L481.68 209.65L482.11 210.48L482.54 211.26L482.97 212.00L483.40 212.69L483.82 213.32L484.25 213.90L484.68 214.45L485.11 214.99L485.54 215.51L485.96 216.00L486.39 216.46L486.82 216.90L487.25 217.31L487.68 217.68L488.10 218.02L488.53 218.32L488.96 218.58L489.39 218.81L489.82 219.03L490.24 219.25L490.67 219.45L491.10 219.64L491.53 219.83L491.96 220.00L492.38 220.16L492.81 220.30L493.24 220.43L493.67 220.55L494.10 220.65L494.52 220.73L494.95 220.79L495.38 220.85L495.81 220.90L496.24 220.95L496.66 221.00L497.09 221.04L497.52 221.09L497.95 221.13L498.38 221.17L498.81 221.21L499.23 221.25L499.66 221.28L500.09 221.31L500.52 221.34L500.95 221.37L501.37 221.40L501.80 221.42L502.23 221.44L502.66 221.46L503.09 221.47L503.51 221.48L503.94 221.49L504.37 221.50L504.80 221.50L505.23 221.50L505.65 221.50L506.08 221.50L506.51 221.50L506.94 221.50L507.37 221.50L507.79 221.50L508.22 221.50L508.65 221.50L509.08 221.50L509.51 221.50L509.93 221.50L510.36 221.50L510.79 221.50L511.22 221.50L511.65 221.50L512.07 221.50L512.50 221.50L512.93 221.50L513.36 221.50L513.79 221.50L514.21 221.50L514.64 221.50L515.07 221.50L515.50 221.50L515.93 221.50L516.36 221.50L516.78 221.50L517.21 221.50L517.64 221.50L518.07 221.50L518.50 221.50L518.92 221.50L519.35 221.50L519.78 221.50L520.21 221.50L520.64 221.50L521.06 221.50L521.49 221.50L521.92 221.50L522.35 221.50L522.78 221.50L523.20 221.50L523.63 221.50L524.06 221.50L524.49 221.50L524.92 221.50L525.34 221.50L525.77 221.50L526.20 221.50L526.63 221.50L527.06 221.50L527.48 221.50L527.91 221.50L528.34 221.50L528.77 221.50L529.20 221.50L529.62 221.50L530.05 221.50L530.48 221.50L530.91 221.50L531.34 221.50L531.76 221.50L532.19 221.50L532.62 221.50L533.05 221.50L533.48 221.50L533.91 221.50L534.33 221.50L534.76 221.50L535.19 221.50L535.62 221.50L536.05 221.50L536.47 221.50L536.90 221.50L537.33 221.50L537.76 221.50L538.19 221.50L538.61 221.50L539.04 221.50L539.47 221.50L539.90 221.50L540.33 221.50L540.75 221.50L541.18 221.50L541.61 221.50L542.04 221.50L542.47 221.50L542.89 221.50L543.32 221.50L543.75 221.50L544.18 221.50L544.61 221.50L545.03 221.50L545.46 221.50L545.89 221.50L546.32 221.50L546.75 221.50L547.17 221.50L547.60 221.50L548.03 221.50L548.46 221.50L548.89 221.50L549.31 221.50L549.74 221.50L550.17 221.50L550.60 221.50L551.03 221.50L551.45 221.50L551.88 221.50L552.31 221.50L552.74 221.50L553.17 221.50L553.60 221.50L554.02 221.50L554.45 221.50L554.88 221.50L555.31 221.50L555.74 221.50L556.16 221.50L556.59 221.50L557.02 221.50L557.45 221.50L557.88 221.50L558.30 221.50L558.73 221.50L559.16 221.50L559.59 221.50L560.02 221.50L560.44 221.50L560.87 221.50L561.30 221.50" stroke="#008c00" stroke-width="2.5" stroke-dasharray="5.8 3.6"/><path d="M304.90 221.30L305.33 221.30L305.76 221.29L306.18 221.29L306.61 221.29L307.04 221.28L307.47 221.28L307.90 221.27L308.32 221.27L308.75 221.26L309.18 221.25L309.61 221.25L310.04 221.24L310.46 221.23L310.89 221.23L311.32 221.22L311.75 221.21L312.18 221.20L312.60 221.19L313.03 221.18L313.46 221.17L313.89 221.16L314.32 221.15L314.75 221.14L315.17 221.13L315.60 221.12L316.03 221.11L316.46 221.10L316.89 221.08L317.31 221.07L317.74 221.06L318.17 221.05L318.60 221.03L319.03 221.02L319.45 221.01L319.88 221.00L320.31 220.98L320.74 220.97L321.17 220.96L321.59 220.94L322.02 220.93L322.45 220.92L322.88 220.90L323.31 220.89L323.73 220.88L324.16 220.86L324.59 220.84L325.02 220.83L325.45 220.81L325.87 220.79L326.30 220.77L326.73 220.76L327.16 220.74L327.59 220.72L328.01 220.70L328.44 220.67L328.87 220.65L329.30 220.63L329.73 220.61L330.15 220.58L330.58 220.56L331.01 220.54L331.44 220.51L331.87 220.49L332.29 220.46L332.72 220.44L333.15 220.41L333.58 220.38L334.01 220.36L334.44 220.33L334.86 220.30L335.29 220.28L335.72 220.25L336.15 220.22L336.58 220.19L337.00 220.17L337.43 220.14L337.86 220.11L338.29 220.08L338.72 220.05L339.14 220.02L339.57 220.00L340.00 219.97L340.43 219.94L340.86 219.91L341.28 219.88L341.71 219.85L342.14 219.83L342.57 219.80L343.00 219.77L343.42 219.74L343.85 219.71L344.28 219.69L344.71 219.66L345.14 219.63L345.56 219.61L345.99 219.58L346.42 219.55L346.85 219.52L347.28 219.49L347.70 219.46L348.13 219.43L348.56 219.40L348.99 219.37L349.42 219.34L349.84 219.31L350.27 219.28L350.70 219.25L351.13 219.21L351.56 219.18L351.99 219.14L352.41 219.11L352.84 219.07L353.27 219.03L353.70 218.99L354.13 218.95L354.55 218.91L354.98 218.87L355.41 218.82L355.84 218.78L356.27 218.73L356.69 218.68L357.12 218.63L357.55 218.58L357.98 218.53L358.41 218.48L358.83 218.42L359.26 218.36L359.69 218.30L360.12 218.23L360.55 218.15L360.97 218.07L361.40 217.98L361.83 217.88L362.26 217.78L362.69 217.68L363.11 217.57L363.54 217.45L363.97 217.33L364.40 217.21L364.83 217.09L365.25 216.96L365.68 216.83L366.11 216.70L366.54 216.56L366.97 216.43L367.39 216.29L367.82 216.15L368.25 216.01L368.68 215.87L369.11 215.73L369.54 215.59L369.96 215.45L370.39 215.30L370.82 215.15L371.25 215.01L371.68 214.85L372.10 214.70L372.53 214.54L372.96 214.38L373.39 214.21L373.82 214.04L374.24 213.87L374.67 213.70L375.10 213.52L375.53 213.33L375.96 213.15L376.38 212.96L376.81 212.77L377.24 212.57L377.67 212.37L378.10 212.16L378.52 211.95L378.95 211.73L379.38 211.52L379.81 211.29L380.24 211.06L380.66 210.83L381.09 210.59L381.52 210.35L381.95 210.09L382.38 209.83L382.80 209.56L383.23 209.28L383.66 208.99L384.09 208.70L384.52 208.40L384.94 208.09L385.37 207.77L385.80 207.44L386.23 207.10L386.66 206.76L387.08 206.41L387.51 206.05L387.94 205.68L388.37 205.30L388.80 204.92L389.23 204.52L389.65 204.12L390.08 203.71L390.51 203.29L390.94 202.86L391.37 202.40L391.79 201.93L392.22 201.44L392.65 200.94L393.08 200.42L393.51 199.88L393.93 199.33L394.36 198.77L394.79 198.19L395.22 197.60L395.65 196.99L396.07 196.38L396.50 195.75L396.93 195.12L397.36 194.48L397.79 193.82L398.21 193.16L398.64 192.50L399.07 191.82L399.50 191.14L399.93 190.46L400.35 189.76L400.78 189.05L401.21 188.33L401.64 187.59L402.07 186.84L402.49 186.07L402.92 185.29L403.35 184.50L403.78 183.69L404.21 182.87L404.63 182.04L405.06 181.19L405.49 180.33L405.92 179.46L406.35 178.58L406.78 177.68L407.20 176.78L407.63 175.86L408.06 174.93L408.49 173.99L408.92 173.03L409.34 172.07L409.77 171.09L410.20 170.11L410.63 169.12L411.06 168.11L411.48 167.10L411.91 166.07L412.34 165.03L412.77 163.96L413.20 162.88L413.62 161.78L414.05 160.65L414.48 159.50L414.91 158.32L415.34 157.12L415.76 155.88L416.19 154.61L416.62 153.30L417.05 151.96L417.48 150.58L417.90 149.16L418.33 147.68L418.76 146.07L419.19 144.33L419.62 142.50L420.04 140.60L420.47 138.65L420.90 136.69L421.33 134.74L421.76 132.83L422.18 130.98L422.61 129.20L423.04 127.44L423.47 125.68L423.90 123.94L424.33 122.20L424.75 120.48L425.18 118.76L425.61 117.05L426.04 115.34L426.47 113.64L426.89 111.95L427.32 110.28L427.75 108.63L428.18 106.99L428.61 105.35L429.03 103.70L429.46 102.04L429.89 100.36L430.32 98.65L430.75 96.90L431.17 95.06L431.60 93.18L432.03 91.32L432.46 89.55L432.89 87.92L433.31 86.36L433.74 84.85L434.17 83.39L434.60 81.96L435.03 80.55L435.45 79.14L435.88 77.73L436.31 76.30L436.74 74.86L437.17 73.42L437.59 71.99L438.02 70.56L438.45 69.14L438.88 67.71L439.31 66.29L439.73 64.86L440.16 63.42L440.59 61.96L441.02 60.43L441.45 58.87L441.87 57.31L442.30 55.77L442.73 54.29L443.16 52.89L443.59 51.61L444.02 50.46L444.44 49.39L444.87 48.35L445.30 47.38L445.73 46.50L446.16 45.77L446.58 45.22L447.01 44.78L447.44 44.35L447.87 43.97L448.30 43.64L448.72 43.39L449.15 43.24L449.58 43.20L450.01 43.29L450.44 43.49L450.86 43.79L451.29 44.17L451.72 44.61L452.15 45.09L452.58 45.59L453.00 46.27L453.43 47.15L453.86 48.22L454.29 49.45L454.72 50.79L455.14 52.22L455.57 53.70L456.00 55.24L456.43 57.05L456.86 59.08L457.28 61.25L457.71 63.49L458.14 65.70L458.57 67.84L459.00 70.01L459.42 72.20L459.85 74.41L460.28 76.64L460.71 78.89L461.14 81.14L461.57 83.39L461.99 85.59L462.42 87.80L462.85 90.04L463.28 92.37L463.71 94.83L464.13 97.47L464.56 100.34L464.99 103.37L465.42 106.48L465.85 109.61L466.27 112.72L466.70 115.87L467.13 119.07L467.56 122.29L467.99 125.54L468.41 128.81L468.84 132.17L469.27 135.68L469.70 139.26L470.13 142.87L470.55 146.46L470.98 149.96L471.41 153.33L471.84 156.50L472.27 159.43L472.69 162.06L473.12 164.46L473.55 166.68L473.98 168.79L474.41 170.85L474.83 172.90L475.26 175.01L475.69 177.21L476.12 179.44L476.55 181.63L476.97 183.70L477.40 185.60L477.83 187.32L478.26 188.95L478.69 190.50L479.12 191.94L479.54 193.26L479.97 194.43L480.40 195.48L480.83 196.47L481.26 197.38L481.68 198.20L482.11 198.93L482.54 199.55L482.97 200.13L483.40 200.68L483.82 201.20L484.25 201.66L484.68 202.05L485.11 202.33L485.54 202.51L485.96 202.63L486.39 202.73L486.82 202.82L487.25 202.90L487.68 202.95L488.10 202.99L488.53 203.00L488.96 202.95L489.39 202.84L489.82 202.69L490.24 202.51L490.67 202.33L491.10 202.16L491.53 202.01L491.96 201.85L492.38 201.68L492.81 201.52L493.24 201.34L493.67 201.16L494.10 200.97L494.52 200.77L494.95 200.56L495.38 200.34L495.81 200.11L496.24 199.86L496.66 199.59L497.09 199.29L497.52 198.97L497.95 198.63L498.38 198.27L498.81 197.90L499.23 197.51L499.66 197.11L500.09 196.70L500.52 196.28L500.95 195.86L501.37 195.43L501.80 195.00L502.23 194.57L502.66 194.14L503.09 193.71L503.51 193.29L503.94 192.85L504.37 192.41L504.80 191.96L505.23 191.50L505.65 191.04L506.08 190.57L506.51 190.09L506.94 189.61L507.37 189.11L507.79 188.62L508.22 188.11L508.65 187.60L509.08 187.09L509.51 186.57L509.93 186.04L510.36 185.50L510.79 184.96L511.22 184.40L511.65 183.84L512.07 183.26L512.50 182.67L512.93 182.07L513.36 181.47L513.79 180.85L514.21 180.23L514.64 179.60L515.07 178.97L515.50 178.33L515.93 177.69L516.36 177.04L516.78 176.40L517.21 175.75L517.64 175.10L518.07 174.45L518.50 173.79L518.92 173.12L519.35 172.43L519.78 171.73L520.21 171.02L520.64 170.30L521.06 169.59L521.49 168.87L521.92 168.16L522.35 167.46L522.78 166.78L523.20 166.10L523.63 165.45L524.06 164.82L524.49 164.22L524.92 163.62L525.34 163.01L525.77 162.40L526.20 161.79L526.63 161.19L527.06 160.61L527.48 160.05L527.91 159.51L528.34 159.01L528.77 158.56L529.20 158.15L529.62 157.80L530.05 157.50L530.48 157.21L530.91 156.93L531.34 156.66L531.76 156.40L532.19 156.17L532.62 155.97L533.05 155.80L533.48 155.68L533.91 155.61L534.33 155.61L534.76 155.77L535.19 156.09L535.62 156.54L536.05 157.09L536.47 157.71L536.90 158.35L537.33 159.07L537.76 160.02L538.19 161.17L538.61 162.47L539.04 163.88L539.47 165.36L539.90 166.88L540.33 168.39L540.75 169.85L541.18 171.28L541.61 172.77L542.04 174.30L542.47 175.87L542.89 177.45L543.32 179.05L543.75 180.65L544.18 182.23L544.61 183.79L545.03 185.32L545.46 186.83L545.89 188.34L546.32 189.84L546.75 191.34L547.17 192.82L547.60 194.30L548.03 195.76L548.46 197.21L548.89 198.64L549.31 200.05L549.74 201.46L550.17 202.90L550.60 204.34L551.03 205.78L551.45 207.20L551.88 208.58L552.31 209.91L552.74 211.19L553.17 212.39L553.60 213.50L554.02 214.54L554.45 215.61L554.88 216.69L555.31 217.73L555.74 218.70L556.16 219.54L556.59 220.20L557.02 220.65L557.45 220.85L557.88 220.98L558.30 221.09L558.73 221.20L559.16 221.29L559.59 221.36L560.02 221.42L560.44 221.46L560.87 221.49L561.30 221.50" stroke="#00f" stroke-width="2.8"/></g><g clip-path="url(#cR)"><path d="M325.14 220.40V221.15M327.52 220.40V221.15M329.90 220.40V221.15M332.28 220.10V221.03M334.66 219.91V220.95M337.04 218.78V220.33M339.42 220.40V221.15M341.80 220.27V221.10M344.18 220.40V221.15M346.56 220.40V221.15M348.95 219.49V220.73M351.33 218.03V219.85M353.71 218.81V220.34M356.09 218.55V220.18M358.47 218.01V219.83M360.85 216.64V218.89M363.23 215.97V218.40M365.61 215.73V218.23M367.99 213.32V216.39M370.37 216.45V218.75M372.75 215.65V218.17M375.14 211.72V215.12M377.52 208.25V212.29M379.90 212.62V215.84M382.28 206.83V211.10M384.66 208.25V212.29M387.04 201.44V206.52M389.42 198.87V204.29M391.80 196.09V201.85M394.18 194.44V200.40M396.56 191.92V198.17M398.94 194.32V200.29M401.32 190.56V196.96M403.71 174.41V182.41M406.09 174.74V182.71M408.47 170.27V178.63M410.85 163.70V172.61M413.23 158.61V167.92M415.61 150.89V160.78M417.99 144.48V154.83M420.37 142.46V152.95M422.75 114.88V127.12M425.13 105.61V118.39M427.51 97.38V110.62M429.89 90.18V103.82M432.28 76.83V91.17M434.66 62.37V77.43M437.04 48.03V63.77M439.42 44.86V60.74M441.80 44.25V60.15M444.18 40.97V57.03M446.56 37.08V53.32M448.94 41.58V57.62M451.32 48.75V64.45M453.70 37.70V53.90M456.08 53.87V69.33M458.47 55.82V71.18M460.85 74.78V89.22M463.23 87.72V101.48M465.61 111.75V124.19M467.99 109.10V121.68M470.37 139.02V149.75M472.75 143.09V153.54M475.13 157.08V166.51M477.51 185.29V192.25M479.89 188.36V195.01M482.27 194.63V200.57M484.65 197.58V203.16M487.04 204.19V208.87M489.42 204.16V208.84M491.80 200.52V205.71M494.18 194.96V200.86M496.56 193.50V199.57M498.94 199.24V204.60M501.32 197.00V202.65M503.70 185.75V192.66M506.08 185.11V192.09M508.46 183.53V190.67M510.84 175.55V183.45M513.22 165.21V173.99M515.61 177.96V185.64M517.99 168.44V176.96M520.37 176.39V184.21M522.75 153.34V163.06M525.13 155.73V165.27M527.51 155.01V164.59M529.89 149.40V159.40M532.27 147.84V157.96M534.65 150.23V160.17M537.03 141.52V152.08M539.41 163.64V172.56M541.80 176.39V184.21M544.18 181.11V188.49M546.56 189.96V196.44M548.94 205.54V210.01M551.32 202.05V207.04M553.70 212.28V215.57M556.08 218.67V220.26" stroke="#000" stroke-width="1.5"/><circle cx="325.14" cy="220.78" r="2.15"/><circle cx="327.52" cy="220.78" r="2.15"/><circle cx="329.90" cy="220.78" r="2.15"/><circle cx="332.28" cy="220.56" r="2.15"/><circle cx="334.66" cy="220.43" r="2.15"/><circle cx="337.04" cy="219.55" r="2.15"/><circle cx="339.42" cy="220.78" r="2.15"/><circle cx="341.80" cy="220.69" r="2.15"/><circle cx="344.18" cy="220.78" r="2.15"/><circle cx="346.56" cy="220.78" r="2.15"/><circle cx="348.95" cy="220.11" r="2.15"/><circle cx="351.33" cy="218.94" r="2.15"/><circle cx="353.71" cy="219.58" r="2.15"/><circle cx="356.09" cy="219.37" r="2.15"/><circle cx="358.47" cy="218.92" r="2.15"/><circle cx="360.85" cy="217.77" r="2.15"/><circle cx="363.23" cy="217.19" r="2.15"/><circle cx="365.61" cy="216.98" r="2.15"/><circle cx="367.99" cy="214.86" r="2.15"/><circle cx="370.37" cy="217.60" r="2.15"/><circle cx="372.75" cy="216.91" r="2.15"/><circle cx="375.14" cy="213.42" r="2.15"/><circle cx="377.52" cy="210.27" r="2.15"/><circle cx="379.90" cy="214.23" r="2.15"/><circle cx="382.28" cy="208.97" r="2.15"/><circle cx="384.66" cy="210.27" r="2.15"/><circle cx="387.04" cy="203.98" r="2.15"/><circle cx="389.42" cy="201.58" r="2.15"/><circle cx="391.80" cy="198.97" r="2.15"/><circle cx="394.18" cy="197.42" r="2.15"/><circle cx="396.56" cy="195.05" r="2.15"/><circle cx="398.94" cy="197.31" r="2.15"/><circle cx="401.32" cy="193.76" r="2.15"/><circle cx="403.71" cy="178.41" r="2.15"/><circle cx="406.09" cy="178.72" r="2.15"/><circle cx="408.47" cy="174.45" r="2.15"/><circle cx="410.85" cy="168.16" r="2.15"/><circle cx="413.23" cy="163.26" r="2.15"/><circle cx="415.61" cy="155.83" r="2.15"/><circle cx="417.99" cy="149.65" r="2.15"/><circle cx="420.37" cy="147.71" r="2.15"/><circle cx="422.75" cy="121.00" r="2.15"/><circle cx="425.13" cy="112.00" r="2.15"/><circle cx="427.51" cy="104.00" r="2.15"/><circle cx="429.89" cy="97.00" r="2.15"/><circle cx="432.28" cy="84.00" r="2.15"/><circle cx="434.66" cy="69.90" r="2.15"/><circle cx="437.04" cy="55.90" r="2.15"/><circle cx="439.42" cy="52.80" r="2.15"/><circle cx="441.80" cy="52.20" r="2.15"/><circle cx="444.18" cy="49.00" r="2.15"/><circle cx="446.56" cy="45.20" r="2.15"/><circle cx="448.94" cy="49.60" r="2.15"/><circle cx="451.32" cy="56.60" r="2.15"/><circle cx="453.70" cy="45.80" r="2.15"/><circle cx="456.08" cy="61.60" r="2.15"/><circle cx="458.47" cy="63.50" r="2.15"/><circle cx="460.85" cy="82.00" r="2.15"/><circle cx="463.23" cy="94.60" r="2.15"/><circle cx="465.61" cy="117.97" r="2.15"/><circle cx="467.99" cy="115.39" r="2.15"/><circle cx="470.37" cy="144.38" r="2.15"/><circle cx="472.75" cy="148.31" r="2.15"/><circle cx="475.13" cy="161.80" r="2.15"/><circle cx="477.51" cy="188.77" r="2.15"/><circle cx="479.89" cy="191.69" r="2.15"/><circle cx="482.27" cy="197.60" r="2.15"/><circle cx="484.65" cy="200.37" r="2.15"/><circle cx="487.04" cy="206.53" r="2.15"/><circle cx="489.42" cy="206.50" r="2.15"/><circle cx="491.80" cy="203.11" r="2.15"/><circle cx="494.18" cy="197.91" r="2.15"/><circle cx="496.56" cy="196.53" r="2.15"/><circle cx="498.94" cy="201.92" r="2.15"/><circle cx="501.32" cy="199.83" r="2.15"/><circle cx="503.70" cy="189.21" r="2.15"/><circle cx="506.08" cy="188.60" r="2.15"/><circle cx="508.46" cy="187.10" r="2.15"/><circle cx="510.84" cy="179.50" r="2.15"/><circle cx="513.22" cy="169.60" r="2.15"/><circle cx="515.61" cy="181.80" r="2.15"/><circle cx="517.99" cy="172.70" r="2.15"/><circle cx="520.37" cy="180.30" r="2.15"/><circle cx="522.75" cy="158.20" r="2.15"/><circle cx="525.13" cy="160.50" r="2.15"/><circle cx="527.51" cy="159.80" r="2.15"/><circle cx="529.89" cy="154.40" r="2.15"/><circle cx="532.27" cy="152.90" r="2.15"/><circle cx="534.65" cy="155.20" r="2.15"/><circle cx="537.03" cy="146.80" r="2.15"/><circle cx="539.41" cy="168.10" r="2.15"/><circle cx="541.80" cy="180.30" r="2.15"/><circle cx="544.18" cy="184.80" r="2.15"/><circle cx="546.56" cy="193.20" r="2.15"/><circle cx="548.94" cy="207.78" r="2.15"/><circle cx="551.32" cy="204.54" r="2.15"/><circle cx="553.70" cy="213.93" r="2.15"/><circle cx="556.08" cy="219.47" r="2.15"/></g><path fill="#666" d="M321.40 254.50V256.22H324.60V254.50zM324.60 254.50V260.79H328.40V254.50zM328.40 254.50V259.08H332.20V254.50zM332.20 254.50V255.64H334.70V254.50zM334.70 254.50V248.78H337.20V254.50zM337.20 254.50V265.37H340.40V254.50zM340.40 254.50V261.36H343.60V254.50zM343.60 254.50V263.94H347.40V254.50zM347.40 254.50V259.65H349.20V254.50zM349.20 254.50V251.93H351.20V254.50zM351.20 254.50V252.78H353.10V254.50zM353.10 254.50V258.22H356.90V254.50zM356.90 254.50V257.07H360.70V254.50zM360.70 254.50V252.78H363.80V254.50zM363.80 254.50V255.07H367.00V254.50zM367.00 254.50V249.35H370.10V254.50zM370.10 254.50V263.37H373.90V254.50zM373.90 254.50V254.21H375.10V254.50zM375.10 254.50V247.64H377.30V254.50zM377.30 254.50V263.37H380.50V254.50zM380.50 254.50V251.93H382.70V254.50zM382.70 254.50V259.65H384.60V254.50zM384.60 254.50V248.49H387.80V254.50zM387.80 254.50V254.21H389.00V254.50zM389.00 254.50V248.21H392.20V254.50zM392.20 254.50V251.35H395.40V254.50zM395.40 254.50V253.36H398.50V254.50zM398.50 254.50V263.65H401.30V254.50zM401.30 254.50V246.21H404.20V254.50zM404.20 254.50V253.93H406.70V254.50zM406.70 254.50V255.07H409.00V254.50zM409.00 254.50V253.93H411.50V254.50zM411.50 254.50V255.07H414.00V254.50zM414.00 254.50V253.93H416.50V254.50zM416.50 254.50V255.36H419.40V254.50zM419.40 254.50V263.37H423.80V254.50zM423.80 254.50V253.93H426.30V254.50zM426.30 254.50V248.49H430.00V254.50zM430.00 254.50V251.93H432.00V254.50zM432.00 254.50V259.65H435.10V254.50zM435.10 254.50V252.78H436.40V254.50zM436.40 254.50V243.92H439.50V254.50zM439.50 254.50V248.78H441.40V254.50zM441.40 254.50V248.49H444.00V254.50zM444.00 254.50V257.65H445.90V254.50zM445.90 254.50V248.21H449.00V254.50zM449.00 254.50V253.36H451.00V254.50zM451.00 254.50V269.37H454.40V254.50zM454.40 254.50V252.21H456.30V254.50zM456.30 254.50V263.37H458.50V254.50zM458.50 254.50V249.92H461.20V254.50zM461.20 254.50V260.79H463.00V254.50zM463.00 254.50V263.37H465.80V254.50zM465.80 254.50V244.78H468.60V254.50zM468.60 254.50V253.93H472.40V254.50zM472.40 254.50V237.34H475.50V254.50zM475.50 254.50V258.79H478.10V254.50zM478.10 254.50V249.92H480.70V254.50zM480.70 254.50V251.35H484.40V254.50zM484.40 254.50V250.95H486.60V254.50zM486.60 254.50V262.51H490.10V254.50zM490.10 254.50V257.07H493.20V254.50zM493.20 254.50V248.21H497.00V254.50zM497.00 254.50V249.92H498.60V254.50zM498.60 254.50V262.51H502.10V254.50zM502.10 254.50V254.21H503.30V254.50zM503.30 254.50V247.64H506.50V254.50zM506.50 254.50V251.93H508.40V254.50zM508.40 254.50V257.07H511.60V254.50zM511.60 254.50V252.21H515.40V254.50zM515.40 254.50V254.21H517.30V254.50zM517.30 254.50V248.78H520.10V254.50zM520.10 254.50V263.94H523.00V254.50zM523.00 254.50V260.22H524.50V254.50zM524.50 254.50V268.51H527.40V254.50zM527.40 254.50V249.92H530.50V254.50zM530.50 254.50V259.08H533.70V254.50zM533.70 254.50V252.21H536.90V254.50zM536.90 254.50V250.78H540.70V254.50zM540.70 254.50V245.63H544.40V254.50zM544.40 254.50V254.21H546.30V254.50zM546.30 254.50V272.23H549.60V254.50zM549.60 254.50V249.07H552.70V254.50zM552.70 254.50V255.07H556.50V254.50z"/><path d="M304.90 254.50H561.30" stroke="#000" stroke-width="1.5" stroke-dasharray="1.5 1.7"/><path d="M304.90 321.70H321" stroke="#000" stroke-width="1.6" stroke-dasharray="1.2 2"/><path d="M321 321.70H561.30" stroke="#00f" stroke-width="2.2"/><g clip-path="url(#cRA)"><path d="M333.90 290.60V334.50M336.00 288.00V315.50M342.80 288.00V355.00M347.20 288.00V317.20M349.40 296.60V336.20M351.40 297.50V344.80M353.50 291.40V336.20M355.40 289.70V325.80M357.20 288.00V334.50M359.50 288.00V310.40M364.60 290.60V333.60M366.80 310.40V343.00M369.10 310.40V334.50M371.90 288.00V318.10M373.90 309.50V331.90M376.50 302.60V327.60M379.10 322.40V344.80M381.20 311.20V333.60M383.90 338.80V353.40M386.00 311.20V327.60M388.50 291.40V305.20M391.10 314.70V330.20M393.20 310.40V323.30M395.40 306.90V320.70M397.70 315.50V328.40M400.10 313.00V325.00M402.30 315.50V327.60M404.90 314.70V329.30M407.50 306.10V317.20M409.70 319.80V331.00M412.10 315.50V325.00M414.40 321.50V331.90M416.90 316.40V326.70M419.30 321.50V329.30M421.90 324.10V331.10M424.50 312.90V319.90M426.20 317.50V324.50M428.40 321.50V328.50M431.30 314.10V320.30M433.60 313.80V319.00M435.60 318.90V324.10M437.90 321.50V326.70M440.80 312.90V318.10M443.40 320.70V325.90M446.00 318.90V324.10M448.50 317.20V322.40M450.30 316.90V321.10M452.50 312.60V317.80M454.60 319.60V324.80M457.00 322.10V327.30M459.90 316.40V321.60M462.00 323.60V329.60M463.90 318.40V324.10M465.80 317.20V323.50M467.70 316.50V325.40M469.60 317.80V325.40M471.50 315.90V324.70M473.40 316.50V327.30M475.20 316.50V324.10M476.80 313.90V325.40M478.60 317.80V328.70M480.70 308.30V320.30M482.30 314.00V321.60M483.60 320.30V331.70M485.80 321.60V334.90M488.10 305.20V319.00M490.30 310.40V323.30M492.40 317.20V330.20M495.00 317.20V332.70M497.50 315.50V333.60M500.10 313.80V326.70M502.70 318.10V331.90M505.30 325.00V337.90M507.80 313.80V325.00M510.40 310.40V323.30M513.00 312.10V325.00M515.30 310.40V322.40M517.60 316.40V327.60M519.90 319.00V330.20M522.50 312.10V324.10M524.70 313.80V322.40M526.30 328.50V337.10M528.80 314.70V325.00M531.30 324.60V332.80M533.60 316.40V326.70M536.00 312.10V321.60M538.20 314.70V325.00M540.80 316.40V326.70M542.90 313.80V324.10M545.30 309.50V320.70M547.70 319.00V331.00M550.30 323.30V339.70M552.50 298.30V325.90M342.8 288V355" stroke="#000" stroke-width="1.5" fill="none"/><path d="M332.71 300.90h2.38M334.81 290.60h2.38M341.61 321.50h2.38M346.01 290.60h2.38M348.21 310.40h2.38M350.21 310.40h2.38M352.31 310.40h2.38M354.21 304.30h2.38M356.01 295.00h2.38M358.31 290.60h2.38M363.41 313.00h2.38M365.61 325.80h2.38M367.91 321.50h2.38M370.71 306.10h2.38M372.71 319.00h2.38M375.31 315.50h2.38M377.91 332.70h2.38M380.01 321.50h2.38M382.71 348.60h2.38M384.81 319.00h2.38M387.31 298.30h2.38M389.91 322.40h2.38M392.01 316.40h2.38M394.21 313.80h2.38M396.51 321.50h2.38M398.91 319.00h2.38M401.11 321.50h2.38M403.71 321.50h2.38M406.31 311.20h2.38M408.51 325.00h2.38M410.91 319.80h2.38M413.21 326.70h2.38M415.71 321.50h2.38M418.11 325.00h2.38M420.71 327.60h2.38M423.31 316.40h2.38M425.01 321.00h2.38M427.21 325.00h2.38M430.11 317.20h2.38M432.41 316.40h2.38M434.41 321.50h2.38M436.71 324.10h2.38M439.61 315.50h2.38M442.21 323.30h2.38M444.81 321.50h2.38M447.31 319.80h2.38M449.11 319.00h2.38M451.31 315.20h2.38M453.41 322.20h2.38M455.81 324.70h2.38M458.71 319.00h2.38M460.81 326.60h2.38M462.71 321.00h2.38M464.61 320.30h2.38M466.51 321.00h2.38M468.41 321.60h2.38M470.31 320.30h2.38M472.21 321.60h2.38M474.01 320.30h2.38M475.61 319.00h2.38M477.41 320.90h2.38M479.51 315.30h2.38M481.11 317.20h2.38M482.41 324.10h2.38M484.61 325.40h2.38M486.91 313.00h2.38M489.11 316.40h2.38M491.21 323.30h2.38M493.81 324.10h2.38M496.31 322.40h2.38M498.91 319.80h2.38M501.51 325.00h2.38M504.11 331.00h2.38M506.61 319.00h2.38M509.21 316.40h2.38M511.81 318.10h2.38M514.11 315.50h2.38M516.41 321.50h2.38M518.71 325.00h2.38M521.31 317.20h2.38M523.51 318.10h2.38M525.11 332.80h2.38M527.61 319.80h2.38M530.11 328.50h2.38M532.41 321.50h2.38M534.81 316.40h2.38M537.01 319.80h2.38M539.61 321.50h2.38M541.71 319.00h2.38M544.11 314.70h2.38M546.51 325.00h2.38M549.11 330.20h2.38M551.31 312.10h2.38" stroke="#000" stroke-width="1.2"/><circle cx="333.90" cy="300.90" r="1.9"/><circle cx="336.00" cy="290.60" r="1.9"/><circle cx="342.80" cy="321.50" r="1.9"/><circle cx="347.20" cy="290.60" r="1.9"/><circle cx="349.40" cy="310.40" r="1.9"/><circle cx="351.40" cy="310.40" r="1.9"/><circle cx="353.50" cy="310.40" r="1.9"/><circle cx="355.40" cy="304.30" r="1.9"/><circle cx="357.20" cy="295.00" r="1.9"/><circle cx="359.50" cy="290.60" r="1.9"/><circle cx="364.60" cy="313.00" r="1.9"/><circle cx="366.80" cy="325.80" r="1.9"/><circle cx="369.10" cy="321.50" r="1.9"/><circle cx="371.90" cy="306.10" r="1.9"/><circle cx="373.90" cy="319.00" r="1.9"/><circle cx="376.50" cy="315.50" r="1.9"/><circle cx="379.10" cy="332.70" r="1.9"/><circle cx="381.20" cy="321.50" r="1.9"/><circle cx="383.90" cy="348.60" r="1.9"/><circle cx="386.00" cy="319.00" r="1.9"/><circle cx="388.50" cy="298.30" r="1.9"/><circle cx="391.10" cy="322.40" r="1.9"/><circle cx="393.20" cy="316.40" r="1.9"/><circle cx="395.40" cy="313.80" r="1.9"/><circle cx="397.70" cy="321.50" r="1.9"/><circle cx="400.10" cy="319.00" r="1.9"/><circle cx="402.30" cy="321.50" r="1.9"/><circle cx="404.90" cy="321.50" r="1.9"/><circle cx="407.50" cy="311.20" r="1.9"/><circle cx="409.70" cy="325.00" r="1.9"/><circle cx="412.10" cy="319.80" r="1.9"/><circle cx="414.40" cy="326.70" r="1.9"/><circle cx="416.90" cy="321.50" r="1.9"/><circle cx="419.30" cy="325.00" r="1.9"/><circle cx="421.90" cy="327.60" r="1.9"/><circle cx="424.50" cy="316.40" r="1.9"/><circle cx="426.20" cy="321.00" r="1.9"/><circle cx="428.40" cy="325.00" r="1.9"/><circle cx="431.30" cy="317.20" r="1.9"/><circle cx="433.60" cy="316.40" r="1.9"/><circle cx="435.60" cy="321.50" r="1.9"/><circle cx="437.90" cy="324.10" r="1.9"/><circle cx="440.80" cy="315.50" r="1.9"/><circle cx="443.40" cy="323.30" r="1.9"/><circle cx="446.00" cy="321.50" r="1.9"/><circle cx="448.50" cy="319.80" r="1.9"/><circle cx="450.30" cy="319.00" r="1.9"/><circle cx="452.50" cy="315.20" r="1.9"/><circle cx="454.60" cy="322.20" r="1.9"/><circle cx="457.00" cy="324.70" r="1.9"/><circle cx="459.90" cy="319.00" r="1.9"/><circle cx="462.00" cy="326.60" r="1.9"/><circle cx="463.90" cy="321.00" r="1.9"/><circle cx="465.80" cy="320.30" r="1.9"/><circle cx="467.70" cy="321.00" r="1.9"/><circle cx="469.60" cy="321.60" r="1.9"/><circle cx="471.50" cy="320.30" r="1.9"/><circle cx="473.40" cy="321.60" r="1.9"/><circle cx="475.20" cy="320.30" r="1.9"/><circle cx="476.80" cy="319.00" r="1.9"/><circle cx="478.60" cy="320.90" r="1.9"/><circle cx="480.70" cy="315.30" r="1.9"/><circle cx="482.30" cy="317.20" r="1.9"/><circle cx="483.60" cy="324.10" r="1.9"/><circle cx="485.80" cy="325.40" r="1.9"/><circle cx="488.10" cy="313.00" r="1.9"/><circle cx="490.30" cy="316.40" r="1.9"/><circle cx="492.40" cy="323.30" r="1.9"/><circle cx="495.00" cy="324.10" r="1.9"/><circle cx="497.50" cy="322.40" r="1.9"/><circle cx="500.10" cy="319.80" r="1.9"/><circle cx="502.70" cy="325.00" r="1.9"/><circle cx="505.30" cy="331.00" r="1.9"/><circle cx="507.80" cy="319.00" r="1.9"/><circle cx="510.40" cy="316.40" r="1.9"/><circle cx="513.00" cy="318.10" r="1.9"/><circle cx="515.30" cy="315.50" r="1.9"/><circle cx="517.60" cy="321.50" r="1.9"/><circle cx="519.90" cy="325.00" r="1.9"/><circle cx="522.50" cy="317.20" r="1.9"/><circle cx="524.70" cy="318.10" r="1.9"/><circle cx="526.30" cy="332.80" r="1.9"/><circle cx="528.80" cy="319.80" r="1.9"/><circle cx="531.30" cy="328.50" r="1.9"/><circle cx="533.60" cy="321.50" r="1.9"/><circle cx="536.00" cy="316.40" r="1.9"/><circle cx="538.20" cy="319.80" r="1.9"/><circle cx="540.80" cy="321.50" r="1.9"/><circle cx="542.90" cy="319.00" r="1.9"/><circle cx="545.30" cy="314.70" r="1.9"/><circle cx="547.70" cy="325.00" r="1.9"/><circle cx="550.30" cy="330.20" r="1.9"/><circle cx="552.50" cy="312.10" r="1.9"/></g><path d="M48.85 215.59L53.05 215.59M48.85 210.17L53.05 210.17M48.85 204.75L53.05 204.75M48.85 199.34L53.05 199.34M48.85 193.93L57.15 193.93M48.85 188.51L53.05 188.51M48.85 183.09L53.05 183.09M48.85 177.68L53.05 177.68M48.85 172.26L53.05 172.26M48.85 166.85L57.15 166.85M48.85 161.44L53.05 161.44M48.85 156.02L53.05 156.02M48.85 150.61L53.05 150.61M48.85 145.19L53.05 145.19M48.85 139.78L57.15 139.78M48.85 134.36L53.05 134.36M48.85 128.94L53.05 128.94M48.85 123.53L53.05 123.53M48.85 118.12L53.05 118.12M48.85 112.7L57.15 112.7M48.85 107.29L53.05 107.29M48.85 101.87L53.05 101.87M48.85 96.46L53.05 96.46M48.85 91.04L53.05 91.04M48.85 85.62L57.15 85.62M48.85 80.21L53.05 80.21M48.85 74.8L53.05 74.8M48.85 69.38L53.05 69.38M48.85 63.97L53.05 63.97M48.85 58.55L57.15 58.55M48.85 53.14L53.05 53.14M48.85 47.72L53.05 47.72M48.85 42.31L53.05 42.31M48.85 36.89L53.05 36.89M48.85 31.48L57.15 31.48M48.85 26.06L53.05 26.06M48.85 20.65L53.05 20.65M561.3 213.66L557.1 213.66M304.9 213.66L309.1 213.66M561.3 206.17L557.1 206.17M304.9 206.17L309.1 206.17M561.3 198.68L557.1 198.68M304.9 198.68L309.1 198.68M561.3 191.19L557.1 191.19M304.9 191.19L309.1 191.19M561.3 183.7L553 183.7M304.9 183.7L313.2 183.7M561.3 176.21L557.1 176.21M304.9 176.21L309.1 176.21M561.3 168.72L557.1 168.72M304.9 168.72L309.1 168.72M561.3 161.23L557.1 161.23M304.9 161.23L309.1 161.23M561.3 153.74L557.1 153.74M304.9 153.74L309.1 153.74M561.3 146.25L553 146.25M304.9 146.25L313.2 146.25M561.3 138.76L557.1 138.76M304.9 138.76L309.1 138.76M561.3 131.27L557.1 131.27M304.9 131.27L309.1 131.27M561.3 123.78L557.1 123.78M304.9 123.78L309.1 123.78M561.3 116.29L557.1 116.29M304.9 116.29L309.1 116.29M561.3 108.8L553 108.8M304.9 108.8L313.2 108.8M561.3 101.31L557.1 101.31M304.9 101.31L309.1 101.31M561.3 93.82L557.1 93.82M304.9 93.82L309.1 93.82M561.3 86.33L557.1 86.33M304.9 86.33L309.1 86.33M561.3 78.84L557.1 78.84M304.9 78.84L309.1 78.84M561.3 71.35L553 71.35M304.9 71.35L313.2 71.35M561.3 63.86L557.1 63.86M304.9 63.86L309.1 63.86M561.3 56.37L557.1 56.37M304.9 56.37L309.1 56.37M561.3 48.88L557.1 48.88M304.9 48.88L309.1 48.88M561.3 41.39L557.1 41.39M304.9 41.39L309.1 41.39M561.3 33.9L553 33.9M304.9 33.9L313.2 33.9M561.3 26.41L557.1 26.41M304.9 26.41L309.1 26.41M561.3 18.92L557.1 18.92M304.9 18.92L309.1 18.92M48.85 277.38L57.85 277.38M561.3 277.38L552.3 277.38M304.9 277.38L313.9 277.38M48.85 265.94L57.85 265.94M561.3 265.94L552.3 265.94M304.9 265.94L313.9 265.94M48.85 254.5L57.85 254.5M561.3 254.5L552.3 254.5M304.9 254.5L313.9 254.5M48.85 243.06L57.85 243.06M561.3 243.06L552.3 243.06M304.9 243.06L313.9 243.06M48.85 231.62L57.85 231.62M561.3 231.62L552.3 231.62M304.9 231.62L313.9 231.62M48.85 346.1L54.85 346.1M561.3 346.1L555.3 346.1M304.9 346.1L310.9 346.1M48.85 333.9L54.85 333.9M561.3 333.9L555.3 333.9M304.9 333.9L310.9 333.9M48.85 321.7L54.85 321.7M561.3 321.7L555.3 321.7M304.9 321.7L310.9 321.7M48.85 309.5L54.85 309.5M561.3 309.5L555.3 309.5M304.9 309.5L310.9 309.5M48.85 297.3L54.85 297.3M561.3 297.3L555.3 297.3M304.9 297.3L310.9 297.3M63.07 221L63.07 218.6M63.07 221L63.07 223.4M63.07 288.2L63.07 285.8M63.07 288.2L63.07 290.6M63.07 355.2L63.07 352.8M77.3 221L77.3 218.6M77.3 221L77.3 223.4M77.3 288.2L77.3 285.8M77.3 288.2L77.3 290.6M77.3 355.2L77.3 352.8M91.53 221L91.53 218.6M91.53 221L91.53 223.4M91.53 288.2L91.53 285.8M91.53 288.2L91.53 290.6M91.53 355.2L91.53 352.8M105.75 221L105.75 218.6M105.75 221L105.75 223.4M105.75 288.2L105.75 285.8M105.75 288.2L105.75 290.6M105.75 355.2L105.75 352.8M134.2 221L134.2 218.6M134.2 221L134.2 223.4M134.2 288.2L134.2 285.8M134.2 288.2L134.2 290.6M134.2 355.2L134.2 352.8M148.43 221L148.43 218.6M148.43 221L148.43 223.4M148.43 288.2L148.43 285.8M148.43 288.2L148.43 290.6M148.43 355.2L148.43 352.8M162.65 221L162.65 218.6M162.65 221L162.65 223.4M162.65 288.2L162.65 285.8M162.65 288.2L162.65 290.6M162.65 355.2L162.65 352.8M176.87 221L176.87 218.6M176.87 221L176.87 223.4M176.87 288.2L176.87 285.8M176.87 288.2L176.87 290.6M176.87 355.2L176.87 352.8M205.33 221L205.33 218.6M205.33 221L205.33 223.4M205.33 288.2L205.33 285.8M205.33 288.2L205.33 290.6M205.33 355.2L205.33 352.8M219.55 221L219.55 218.6M219.55 221L219.55 223.4M219.55 288.2L219.55 285.8M219.55 288.2L219.55 290.6M219.55 355.2L219.55 352.8M233.77 221L233.77 218.6M233.77 221L233.77 223.4M233.77 288.2L233.77 285.8M233.77 288.2L233.77 290.6M233.77 355.2L233.77 352.8M248 221L248 218.6M248 221L248 223.4M248 288.2L248 285.8M248 288.2L248 290.6M248 355.2L248 352.8M276.45 221L276.45 218.6M276.45 221L276.45 223.4M276.45 288.2L276.45 285.8M276.45 288.2L276.45 290.6M276.45 355.2L276.45 352.8M290.67 221L290.67 218.6M290.67 221L290.67 223.4M290.67 288.2L290.67 285.8M290.67 288.2L290.67 290.6M290.67 355.2L290.67 352.8M304.9 221L304.9 218.6M304.9 221L304.9 223.4M304.9 288.2L304.9 285.8M304.9 288.2L304.9 290.6M304.9 355.2L304.9 352.8M119.97 221L119.97 216.5M119.97 221L119.97 225.2M119.97 288.2L119.97 283.7M119.97 288.2L119.97 292.4M119.97 355.2L119.97 350.7M191.1 221L191.1 216.5M191.1 221L191.1 225.2M191.1 288.2L191.1 283.7M191.1 288.2L191.1 292.4M191.1 355.2L191.1 350.7M262.23 221L262.23 216.5M262.23 221L262.23 225.2M262.23 288.2L262.23 283.7M262.23 288.2L262.23 292.4M262.23 355.2L262.23 350.7M323.21 221L323.21 218.6M323.21 221L323.21 223.4M323.21 288.2L323.21 285.8M323.21 288.2L323.21 290.6M323.21 355.2L323.21 352.8M359.84 221L359.84 218.6M359.84 221L359.84 223.4M359.84 288.2L359.84 285.8M359.84 288.2L359.84 290.6M359.84 355.2L359.84 352.8M378.16 221L378.16 218.6M378.16 221L378.16 223.4M378.16 288.2L378.16 285.8M378.16 288.2L378.16 290.6M378.16 355.2L378.16 352.8M396.47 221L396.47 218.6M396.47 221L396.47 223.4M396.47 288.2L396.47 285.8M396.47 288.2L396.47 290.6M396.47 355.2L396.47 352.8M414.79 221L414.79 218.6M414.79 221L414.79 223.4M414.79 288.2L414.79 285.8M414.79 288.2L414.79 290.6M414.79 355.2L414.79 352.8M451.41 221L451.41 218.6M451.41 221L451.41 223.4M451.41 288.2L451.41 285.8M451.41 288.2L451.41 290.6M451.41 355.2L451.41 352.8M469.73 221L469.73 218.6M469.73 221L469.73 223.4M469.73 288.2L469.73 285.8M469.73 288.2L469.73 290.6M469.73 355.2L469.73 352.8M488.04 221L488.04 218.6M488.04 221L488.04 223.4M488.04 288.2L488.04 285.8M488.04 288.2L488.04 290.6M488.04 355.2L488.04 352.8M506.36 221L506.36 218.6M506.36 221L506.36 223.4M506.36 288.2L506.36 285.8M506.36 288.2L506.36 290.6M506.36 355.2L506.36 352.8M542.99 221L542.99 218.6M542.99 221L542.99 223.4M542.99 288.2L542.99 285.8M542.99 288.2L542.99 290.6M542.99 355.2L542.99 352.8M341.53 221L341.53 216.5M341.53 221L341.53 225.2M341.53 288.2L341.53 283.7M341.53 288.2L341.53 292.4M341.53 355.2L341.53 350.7M433.1 221L433.1 216.5M433.1 221L433.1 225.2M433.1 288.2L433.1 283.7M433.1 288.2L433.1 292.4M433.1 355.2L433.1 350.7M524.67 221L524.67 216.5M524.67 221L524.67 225.2M524.67 288.2L524.67 283.7M524.67 288.2L524.67 292.4M524.67 355.2L524.67 350.7" stroke="#000" stroke-width="2.45" fill="none"/><path d="M48.85 286.53L52.85 286.53M561.3 286.53L557.3 286.53M304.9 286.53L308.9 286.53M48.85 284.24L52.85 284.24M561.3 284.24L557.3 284.24M304.9 284.24L308.9 284.24M48.85 281.96L52.85 281.96M561.3 281.96L557.3 281.96M304.9 281.96L308.9 281.96M48.85 279.67L52.85 279.67M561.3 279.67L557.3 279.67M304.9 279.67L308.9 279.67M48.85 275.09L52.85 275.09M561.3 275.09L557.3 275.09M304.9 275.09L308.9 275.09M48.85 272.8L52.85 272.8M561.3 272.8L557.3 272.8M304.9 272.8L308.9 272.8M48.85 270.52L52.85 270.52M561.3 270.52L557.3 270.52M304.9 270.52L308.9 270.52M48.85 268.23L52.85 268.23M561.3 268.23L557.3 268.23M304.9 268.23L308.9 268.23M48.85 263.65L52.85 263.65M561.3 263.65L557.3 263.65M304.9 263.65L308.9 263.65M48.85 261.36L52.85 261.36M561.3 261.36L557.3 261.36M304.9 261.36L308.9 261.36M48.85 259.08L52.85 259.08M561.3 259.08L557.3 259.08M304.9 259.08L308.9 259.08M48.85 256.79L52.85 256.79M561.3 256.79L557.3 256.79M304.9 256.79L308.9 256.79M48.85 252.21L52.85 252.21M561.3 252.21L557.3 252.21M304.9 252.21L308.9 252.21M48.85 249.92L52.85 249.92M561.3 249.92L557.3 249.92M304.9 249.92L308.9 249.92M48.85 247.64L52.85 247.64M561.3 247.64L557.3 247.64M304.9 247.64L308.9 247.64M48.85 245.35L52.85 245.35M561.3 245.35L557.3 245.35M304.9 245.35L308.9 245.35M48.85 240.77L52.85 240.77M561.3 240.77L557.3 240.77M304.9 240.77L308.9 240.77M48.85 238.48L52.85 238.48M561.3 238.48L557.3 238.48M304.9 238.48L308.9 238.48M48.85 236.2L52.85 236.2M561.3 236.2L557.3 236.2M304.9 236.2L308.9 236.2M48.85 233.91L52.85 233.91M561.3 233.91L557.3 233.91M304.9 233.91L308.9 233.91M48.85 229.33L52.85 229.33M561.3 229.33L557.3 229.33M304.9 229.33L308.9 229.33M48.85 227.04L52.85 227.04M561.3 227.04L557.3 227.04M304.9 227.04L308.9 227.04M48.85 224.76L52.85 224.76M561.3 224.76L557.3 224.76M304.9 224.76L308.9 224.76M48.85 222.47L52.85 222.47M561.3 222.47L557.3 222.47M304.9 222.47L308.9 222.47M48.85 353.42L51.85 353.42M561.3 353.42L558.3 353.42M304.9 353.42L307.9 353.42M48.85 350.98L51.85 350.98M561.3 350.98L558.3 350.98M304.9 350.98L307.9 350.98M48.85 348.54L51.85 348.54M561.3 348.54L558.3 348.54M304.9 348.54L307.9 348.54M48.85 343.66L51.85 343.66M561.3 343.66L558.3 343.66M304.9 343.66L307.9 343.66M48.85 341.22L51.85 341.22M561.3 341.22L558.3 341.22M304.9 341.22L307.9 341.22M48.85 338.78L51.85 338.78M561.3 338.78L558.3 338.78M304.9 338.78L307.9 338.78M48.85 336.34L51.85 336.34M561.3 336.34L558.3 336.34M304.9 336.34L307.9 336.34M48.85 331.46L51.85 331.46M561.3 331.46L558.3 331.46M304.9 331.46L307.9 331.46M48.85 329.02L51.85 329.02M561.3 329.02L558.3 329.02M304.9 329.02L307.9 329.02M48.85 326.58L51.85 326.58M561.3 326.58L558.3 326.58M304.9 326.58L307.9 326.58M48.85 324.14L51.85 324.14M561.3 324.14L558.3 324.14M304.9 324.14L307.9 324.14M48.85 319.26L51.85 319.26M561.3 319.26L558.3 319.26M304.9 319.26L307.9 319.26M48.85 316.82L51.85 316.82M561.3 316.82L558.3 316.82M304.9 316.82L307.9 316.82M48.85 314.38L51.85 314.38M561.3 314.38L558.3 314.38M304.9 314.38L307.9 314.38M48.85 311.94L51.85 311.94M561.3 311.94L558.3 311.94M304.9 311.94L307.9 311.94M48.85 307.06L51.85 307.06M561.3 307.06L558.3 307.06M304.9 307.06L307.9 307.06M48.85 304.62L51.85 304.62M561.3 304.62L558.3 304.62M304.9 304.62L307.9 304.62M48.85 302.18L51.85 302.18M561.3 302.18L558.3 302.18M304.9 302.18L307.9 302.18M48.85 299.74L51.85 299.74M561.3 299.74L558.3 299.74M304.9 299.74L307.9 299.74M48.85 294.86L51.85 294.86M561.3 294.86L558.3 294.86M304.9 294.86L307.9 294.86M48.85 292.42L51.85 292.42M561.3 292.42L558.3 292.42M304.9 292.42L307.9 292.42M48.85 289.98L51.85 289.98M561.3 289.98L558.3 289.98M304.9 289.98L307.9 289.98" stroke="#000" stroke-width="1.25" fill="none"/><rect x="48.85" y="14.9" width="256.05" height="340.3" fill="none" stroke="#000" stroke-width="2.5"/><path d="M48.85 221L304.9 221" stroke="#000" stroke-width="2.5"/><path d="M48.85 288.2L304.9 288.2" stroke="#000" stroke-width="2.5"/><rect x="304.9" y="14.9" width="256.4" height="340.3" fill="none" stroke="#000" stroke-width="2.5"/><path d="M304.9 221L561.3 221" stroke="#000" stroke-width="2.5"/><path d="M304.9 288.2L561.3 288.2" stroke="#000" stroke-width="2.5"/><path d="M189.3 106.5H199.29999999999998M196.0 103.9L199.6 106.5L196.0 109.1" stroke="#000" stroke-width="0.95" fill="none"/><path d="M189.3 124.10000000000001H199.29999999999998M196.0 121.50000000000001L199.6 124.10000000000001L196.0 126.7" stroke="#000" stroke-width="0.95" fill="none"/><path d="M163.7 65.5V76" stroke="#000" stroke-width="1.6"/><circle cx="163.7" cy="70.8" r="1.9"/><path d="M155.8 88.5H171.7" stroke="#00f" stroke-width="3"/><path d="M155.7 106.5H171.7" stroke="#f00" stroke-width="2.6" stroke-dasharray="3.3 3.1"/><path d="M155.7 124H171.7" stroke="#008c00" stroke-width="2.3" stroke-dasharray="5.4 5.1"/><path d="M155.7 140.8H171.7" stroke="#000" stroke-width="2.6"/><text x="45.8" y="198.83" text-anchor="end" font-size="12.1">500</text><text x="45.8" y="171.75" text-anchor="end" font-size="12.1">1000</text><text x="45.8" y="144.68" text-anchor="end" font-size="12.1">1500</text><text x="45.8" y="117.6" text-anchor="end" font-size="12.1">2000</text><text x="45.8" y="90.53" text-anchor="end" font-size="12.1">2500</text><text x="45.8" y="63.45" text-anchor="end" font-size="12.1">3000</text><text x="45.8" y="36.38" text-anchor="end" font-size="12.1">3500</text><text x="564.3" y="188.6" text-anchor="start" font-size="12.1">100</text><text x="564.3" y="151.15" text-anchor="start" font-size="12.1">200</text><text x="564.3" y="113.7" text-anchor="start" font-size="12.1">300</text><text x="564.3" y="76.25" text-anchor="start" font-size="12.1">400</text><text x="564.3" y="38.8" text-anchor="start" font-size="12.1">500</text><text x="45.8" y="236.52" text-anchor="end" font-size="12.1">4</text><text x="564.3" y="236.52" text-anchor="start" font-size="12.1">4</text><text x="45.8" y="247.96" text-anchor="end" font-size="12.1">2</text><text x="564.3" y="247.96" text-anchor="start" font-size="12.1">2</text><text x="45.8" y="259.4" text-anchor="end" font-size="12.1">0</text><text x="564.3" y="259.4" text-anchor="start" font-size="12.1">0</text><text x="45.8" y="270.84" text-anchor="end" font-size="12.1">&#8722;2</text><text x="564.3" y="270.84" text-anchor="start" font-size="12.1">&#8722;2</text><text x="45.8" y="282.28" text-anchor="end" font-size="12.1">&#8722;4</text><text x="564.3" y="282.28" text-anchor="start" font-size="12.1">&#8722;4</text><text x="45.8" y="302.2" text-anchor="end" font-size="12.1">0.4</text><text x="564.3" y="302.2" text-anchor="start" font-size="12.1">0.4</text><text x="45.8" y="314.4" text-anchor="end" font-size="12.1">0.2</text><text x="564.3" y="314.4" text-anchor="start" font-size="12.1">0.2</text><text x="45.8" y="326.6" text-anchor="end" font-size="12.1">0</text><text x="564.3" y="326.6" text-anchor="start" font-size="12.1">0</text><text x="45.8" y="338.8" text-anchor="end" font-size="12.1">&#8722;0.2</text><text x="564.3" y="338.8" text-anchor="start" font-size="12.1">&#8722;0.2</text><text x="45.8" y="351" text-anchor="end" font-size="12.1">&#8722;0.4</text><text x="564.3" y="351" text-anchor="start" font-size="12.1">&#8722;0.4</text><text x="48.85" y="367.3" text-anchor="middle" font-size="12.1">2.005</text><text x="119.97" y="367.3" text-anchor="middle" font-size="12.1">2.01</text><text x="191.1" y="367.3" text-anchor="middle" font-size="12.1">2.015</text><text x="262.23" y="367.3" text-anchor="middle" font-size="12.1">2.02</text><text x="341.53" y="367.3" text-anchor="middle" font-size="12.1">&#8722;5</text><text x="433.1" y="367.3" text-anchor="middle" font-size="12.1">0</text><text x="524.67" y="367.3" text-anchor="middle" font-size="12.1">5</text><text transform="translate(12.2,118) rotate(-90)" text-anchor="middle" font-size="12.1">Candidates per 0.2 MeV/<tspan font-style="italic">c</tspan><tspan font-size="8.5" dy="-4.5">2</tspan></text><text transform="translate(12.2,254.5) rotate(-90)" text-anchor="middle" font-size="12.1">Pull</text><text transform="translate(12.2,321) rotate(-90)" text-anchor="middle" font-size="12.1">Asymmetry</text><text transform="translate(603.6,118) rotate(-90)" text-anchor="middle" font-size="12.1">Candidates per 0.13</text><text transform="translate(603.6,254.5) rotate(-90)" text-anchor="middle" font-size="12.1">Pull</text><text transform="translate(603.6,321) rotate(-90)" text-anchor="middle" font-size="12.1">Asymmetry</text><text x="132.0" y="389.6" font-size="12.1" font-style="italic">m</text><text x="140.5" y="389.6" font-size="12.1">(</text><text x="144.1" y="389.6" font-size="12.1" font-style="italic">D</text><text x="153.4" y="384.7" font-size="8.3">0</text><text x="158.2" y="389.6" font-size="12.1" font-style="italic">&#960;</text><text x="165.6" y="384.7" font-size="8.3">+</text><text x="170.2" y="389.6" font-size="12.1">)</text><text x="176.2" y="389.6" font-size="12.1">[GeV/</text><text x="206.6" y="389.6" font-size="12.1" font-style="italic">c</text><text x="213.8" y="384.7" font-size="8.3">2</text><text x="218.8" y="389.6" font-size="12.1">]</text><text x="412.7" y="389.6" font-size="12.1" font-style="italic">S</text><text x="419.0" y="392.6" font-size="8.3">min</text><text x="432.2" y="389.6" font-size="12.1">(</text><text x="435.8" y="389.6" font-size="12.1" font-style="italic">K</text><text x="443.4" y="384.7" font-size="8.3">0</text><text x="443.5" y="392.9" font-size="9.2">s</text><text x="449.9" y="389.6" font-size="12.1">)</text><text x="148.6" y="44.2" font-size="12.1" font-weight="bold" font-style="italic">Belle II</text><text x="196.5" y="42.9" font-size="14.5">&#8747;</text><text x="204.4" y="44.2" font-size="12.1" font-style="italic">L</text><text x="213.6" y="44.2" font-size="12.1" font-style="italic">dt</text><text x="228.2" y="44.2" font-size="12.1">=</text><text x="237.4" y="44.2" font-size="12.1">428</text><text x="259.8" y="44.2" font-size="12.1">fb</text><text x="271.0" y="38.8" font-size="8.3">&#8722;1</text><text x="175.5" y="75.4" font-size="12.1">Data</text><text x="175.5" y="92.1" font-size="12.1">Fit</text><text x="175.3" y="110.1" font-size="12.1" font-style="italic">D</text><text x="184.0" y="105.5" font-size="8.3">0</text><text x="199.6" y="110.1" font-size="12.1" font-style="italic">K</text><text x="209.6" y="105.5" font-size="8.3">0</text><text x="209.2" y="113.3" font-size="9.2">s</text><text x="212.6" y="110.1" font-size="12.1" font-style="italic">K</text><text x="222.4" y="105.5" font-size="8.3">0</text><text x="222.2" y="113.3" font-size="9.2">s</text><text x="175.3" y="127.7" font-size="12.1" font-style="italic">D</text><text x="184.0" y="123.10000000000001" font-size="8.3">0</text><text x="199.6" y="127.7" font-size="12.1" font-style="italic">K</text><text x="209.6" y="123.10000000000001" font-size="8.3">0</text><text x="209.2" y="130.9" font-size="9.2">s</text><text x="213.6" y="127.7" font-size="12.1" font-style="italic">&#960;</text><text x="220.0" y="123.10000000000001" font-size="8.3">+</text><text x="225.8" y="127.7" font-size="12.1" font-style="italic">&#960;</text><text x="232.6" y="123.10000000000001" font-size="8.3">&#8722;</text><text x="175.5" y="145.8" font-size="12.1">Non-peaking back.</text></svg></body></html>
